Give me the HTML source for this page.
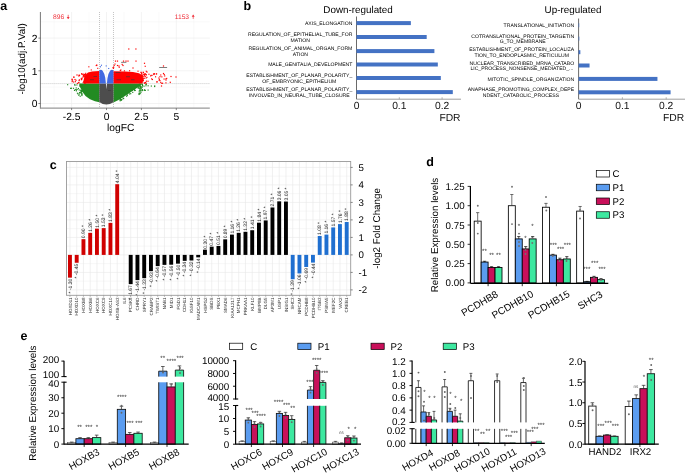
<!DOCTYPE html>
<html><head><meta charset="utf-8"><style>
html,body{margin:0;padding:0;background:#fff;}
svg{display:block;font-family:"Liberation Sans",sans-serif;text-rendering:geometricPrecision;filter:blur(0.35px);}
</style></head><body>
<svg width="685" height="473" viewBox="0 0 685 473">
<rect width="685" height="473" fill="#fff"/>
<text x="0.2" y="9.6" font-size="12.5" font-weight="bold">a</text>
<line x1="54.15" y1="12" x2="54.15" y2="108.1" stroke="#f4f4f4" stroke-width="0.5"/>
<line x1="89.05" y1="12" x2="89.05" y2="108.1" stroke="#f4f4f4" stroke-width="0.5"/>
<line x1="123.95" y1="12" x2="123.95" y2="108.1" stroke="#f4f4f4" stroke-width="0.5"/>
<line x1="158.85" y1="12" x2="158.85" y2="108.1" stroke="#f4f4f4" stroke-width="0.5"/>
<line x1="193.75" y1="12" x2="193.75" y2="108.1" stroke="#f4f4f4" stroke-width="0.5"/>
<line x1="40.4" y1="87.15" x2="209.8" y2="87.15" stroke="#f4f4f4" stroke-width="0.5"/>
<line x1="40.4" y1="54.45" x2="209.8" y2="54.45" stroke="#f4f4f4" stroke-width="0.5"/>
<line x1="40.4" y1="21.75" x2="209.8" y2="21.75" stroke="#f4f4f4" stroke-width="0.5"/>
<line x1="71.6" y1="12" x2="71.6" y2="108.1" stroke="#ebebeb" stroke-width="0.6"/>
<line x1="106.5" y1="12" x2="106.5" y2="108.1" stroke="#ebebeb" stroke-width="0.6"/>
<line x1="141.4" y1="12" x2="141.4" y2="108.1" stroke="#ebebeb" stroke-width="0.6"/>
<line x1="176.3" y1="12" x2="176.3" y2="108.1" stroke="#ebebeb" stroke-width="0.6"/>
<line x1="40.4" y1="103.5" x2="209.8" y2="103.5" stroke="#ebebeb" stroke-width="0.6"/>
<line x1="40.4" y1="70.8" x2="209.8" y2="70.8" stroke="#ebebeb" stroke-width="0.6"/>
<line x1="40.4" y1="38.1" x2="209.8" y2="38.1" stroke="#ebebeb" stroke-width="0.6"/>
<line x1="99.52" y1="12" x2="99.52" y2="108.1" stroke="#888" stroke-width="0.5" stroke-dasharray="1,1"/>
<line x1="113.48" y1="12" x2="113.48" y2="108.1" stroke="#888" stroke-width="0.5" stroke-dasharray="1,1"/>
<line x1="40.4" y1="83.6" x2="209.8" y2="83.6" stroke="#bbb" stroke-width="0.8" stroke-dasharray="1,1"/>
<polygon points="79.3,83.6 99.3,83.6 99.3,102.3 95,101.2 90,99.3 85.5,96 82.5,92 80.5,88 79.3,85.3" fill="#228b22"/>
<polygon points="113.4,83.6 142.5,83.6 140,86 135,89.3 129.5,93 123.5,97 118,100.3 113.4,102.4" fill="#228b22"/>
<rect x="79.45" y="85.69" width="1.15" height="1.15" fill="#228b22"/>
<rect x="74.5" y="84.51" width="1.15" height="1.15" fill="#228b22"/>
<rect x="76.55" y="88.91" width="1.15" height="1.15" fill="#228b22"/>
<rect x="81.34" y="91.04" width="1.15" height="1.15" fill="#228b22"/>
<rect x="81.38" y="89.93" width="1.15" height="1.15" fill="#228b22"/>
<rect x="81.3" y="84.79" width="1.15" height="1.15" fill="#228b22"/>
<rect x="81.08" y="86.77" width="1.15" height="1.15" fill="#228b22"/>
<rect x="75.85" y="89.38" width="1.15" height="1.15" fill="#228b22"/>
<rect x="67.06" y="84.12" width="1.15" height="1.15" fill="#228b22"/>
<rect x="70.03" y="87.77" width="1.15" height="1.15" fill="#228b22"/>
<rect x="80.97" y="85.19" width="1.15" height="1.15" fill="#228b22"/>
<rect x="79.62" y="95.67" width="1.15" height="1.15" fill="#228b22"/>
<rect x="80.74" y="92.15" width="1.15" height="1.15" fill="#228b22"/>
<rect x="74.73" y="89.01" width="1.15" height="1.15" fill="#228b22"/>
<rect x="76.35" y="84.37" width="1.15" height="1.15" fill="#228b22"/>
<rect x="81.33" y="86.51" width="1.15" height="1.15" fill="#228b22"/>
<rect x="73.92" y="89.84" width="1.15" height="1.15" fill="#228b22"/>
<rect x="79.56" y="92.21" width="1.15" height="1.15" fill="#228b22"/>
<rect x="77.82" y="87.92" width="1.15" height="1.15" fill="#228b22"/>
<rect x="80.24" y="92.04" width="1.15" height="1.15" fill="#228b22"/>
<rect x="72.92" y="87.74" width="1.15" height="1.15" fill="#228b22"/>
<rect x="78.3" y="94.78" width="1.15" height="1.15" fill="#228b22"/>
<rect x="80.92" y="90.76" width="1.15" height="1.15" fill="#228b22"/>
<rect x="81.38" y="93.45" width="1.15" height="1.15" fill="#228b22"/>
<rect x="75.8" y="90.27" width="1.15" height="1.15" fill="#228b22"/>
<rect x="77.51" y="93.39" width="1.15" height="1.15" fill="#228b22"/>
<rect x="81.33" y="93.95" width="1.15" height="1.15" fill="#228b22"/>
<rect x="70.89" y="87.69" width="1.15" height="1.15" fill="#228b22"/>
<rect x="78.72" y="93.45" width="1.15" height="1.15" fill="#228b22"/>
<rect x="81.41" y="90.35" width="1.15" height="1.15" fill="#228b22"/>
<rect x="80.82" y="85.18" width="1.15" height="1.15" fill="#228b22"/>
<rect x="81.33" y="94.95" width="1.15" height="1.15" fill="#228b22"/>
<rect x="81.05" y="87.14" width="1.15" height="1.15" fill="#228b22"/>
<rect x="81.26" y="90.16" width="1.15" height="1.15" fill="#228b22"/>
<rect x="79.92" y="89.65" width="1.15" height="1.15" fill="#228b22"/>
<rect x="80.77" y="86.9" width="1.15" height="1.15" fill="#228b22"/>
<rect x="80.33" y="90.7" width="1.15" height="1.15" fill="#228b22"/>
<rect x="75.64" y="87.37" width="1.15" height="1.15" fill="#228b22"/>
<rect x="81.42" y="89.71" width="1.15" height="1.15" fill="#228b22"/>
<rect x="78.93" y="91.92" width="1.15" height="1.15" fill="#228b22"/>
<rect x="76.87" y="92.69" width="1.15" height="1.15" fill="#228b22"/>
<rect x="74.01" y="84.23" width="1.15" height="1.15" fill="#228b22"/>
<rect x="78.64" y="89.41" width="1.15" height="1.15" fill="#228b22"/>
<rect x="81.17" y="92.94" width="1.15" height="1.15" fill="#228b22"/>
<rect x="81.32" y="84.44" width="1.15" height="1.15" fill="#228b22"/>
<rect x="139.74" y="85.37" width="1.15" height="1.15" fill="#228b22"/>
<rect x="141.58" y="84.06" width="1.15" height="1.15" fill="#228b22"/>
<rect x="138.43" y="85.24" width="1.15" height="1.15" fill="#228b22"/>
<rect x="138.78" y="87.79" width="1.15" height="1.15" fill="#228b22"/>
<rect x="138.45" y="93.92" width="1.15" height="1.15" fill="#228b22"/>
<rect x="147.57" y="85.21" width="1.15" height="1.15" fill="#228b22"/>
<rect x="140.27" y="87.59" width="1.15" height="1.15" fill="#228b22"/>
<rect x="142" y="84.9" width="1.15" height="1.15" fill="#228b22"/>
<rect x="143.99" y="89.23" width="1.15" height="1.15" fill="#228b22"/>
<rect x="138.69" y="84.65" width="1.15" height="1.15" fill="#228b22"/>
<rect x="141.62" y="86.6" width="1.15" height="1.15" fill="#228b22"/>
<rect x="154.12" y="85.36" width="1.15" height="1.15" fill="#228b22"/>
<rect x="145.4" y="85.18" width="1.15" height="1.15" fill="#228b22"/>
<rect x="145.76" y="83.75" width="1.15" height="1.15" fill="#228b22"/>
<rect x="140.39" y="87.83" width="1.15" height="1.15" fill="#228b22"/>
<rect x="139.3" y="92.69" width="1.15" height="1.15" fill="#228b22"/>
<rect x="141.41" y="86.1" width="1.15" height="1.15" fill="#228b22"/>
<rect x="139.95" y="89.64" width="1.15" height="1.15" fill="#228b22"/>
<rect x="141.85" y="83.77" width="1.15" height="1.15" fill="#228b22"/>
<rect x="138.46" y="86.78" width="1.15" height="1.15" fill="#228b22"/>
<rect x="140.36" y="91.74" width="1.15" height="1.15" fill="#228b22"/>
<rect x="139.87" y="86.15" width="1.15" height="1.15" fill="#228b22"/>
<rect x="139.6" y="85.88" width="1.15" height="1.15" fill="#228b22"/>
<rect x="138.68" y="91.35" width="1.15" height="1.15" fill="#228b22"/>
<rect x="139.41" y="92.89" width="1.15" height="1.15" fill="#228b22"/>
<rect x="150.75" y="85.47" width="1.15" height="1.15" fill="#228b22"/>
<rect x="138.96" y="85.24" width="1.15" height="1.15" fill="#228b22"/>
<rect x="139.12" y="93.34" width="1.15" height="1.15" fill="#228b22"/>
<rect x="141.76" y="90.01" width="1.15" height="1.15" fill="#228b22"/>
<rect x="138.99" y="83.6" width="1.15" height="1.15" fill="#228b22"/>
<rect x="154.03" y="85.96" width="1.15" height="1.15" fill="#228b22"/>
<rect x="140.26" y="86.94" width="1.15" height="1.15" fill="#228b22"/>
<rect x="140.12" y="90.46" width="1.15" height="1.15" fill="#228b22"/>
<rect x="140.36" y="88.45" width="1.15" height="1.15" fill="#228b22"/>
<rect x="141.81" y="88.92" width="1.15" height="1.15" fill="#228b22"/>
<rect x="144.78" y="89.81" width="1.15" height="1.15" fill="#228b22"/>
<rect x="145.29" y="83.65" width="1.15" height="1.15" fill="#228b22"/>
<rect x="143.45" y="85.62" width="1.15" height="1.15" fill="#228b22"/>
<rect x="138.43" y="93.02" width="1.15" height="1.15" fill="#228b22"/>
<rect x="139.35" y="89.11" width="1.15" height="1.15" fill="#228b22"/>
<rect x="141.35" y="89.65" width="1.15" height="1.15" fill="#228b22"/>
<rect x="138.81" y="90.15" width="1.15" height="1.15" fill="#228b22"/>
<rect x="140.22" y="86.75" width="1.15" height="1.15" fill="#228b22"/>
<rect x="147.53" y="89.49" width="1.15" height="1.15" fill="#228b22"/>
<rect x="143.7" y="89.82" width="1.15" height="1.15" fill="#228b22"/>
<rect x="137.69" y="87.48" width="1.15" height="1.15" fill="#228b22"/>
<rect x="128.06" y="92.03" width="1.15" height="1.15" fill="#228b22"/>
<rect x="130.12" y="93.11" width="1.15" height="1.15" fill="#228b22"/>
<rect x="119.6" y="100.2" width="1.15" height="1.15" fill="#228b22"/>
<rect x="120.24" y="99.21" width="1.15" height="1.15" fill="#228b22"/>
<rect x="132.18" y="91.8" width="1.15" height="1.15" fill="#228b22"/>
<rect x="119.65" y="99.5" width="1.15" height="1.15" fill="#228b22"/>
<rect x="119.71" y="98.27" width="1.15" height="1.15" fill="#228b22"/>
<rect x="119.62" y="98.37" width="1.15" height="1.15" fill="#228b22"/>
<rect x="134.66" y="89.77" width="1.15" height="1.15" fill="#228b22"/>
<rect x="123.06" y="97.91" width="1.15" height="1.15" fill="#228b22"/>
<rect x="119.72" y="98.04" width="1.15" height="1.15" fill="#228b22"/>
<rect x="128.97" y="93.36" width="1.15" height="1.15" fill="#228b22"/>
<rect x="119.51" y="97.95" width="1.15" height="1.15" fill="#228b22"/>
<rect x="119.86" y="97.96" width="1.15" height="1.15" fill="#228b22"/>
<rect x="126.68" y="93.45" width="1.15" height="1.15" fill="#228b22"/>
<rect x="133.85" y="89.21" width="1.15" height="1.15" fill="#228b22"/>
<rect x="133.59" y="88.5" width="1.15" height="1.15" fill="#228b22"/>
<rect x="126.07" y="95.68" width="1.15" height="1.15" fill="#228b22"/>
<rect x="134.08" y="89.99" width="1.15" height="1.15" fill="#228b22"/>
<rect x="131.77" y="89.79" width="1.15" height="1.15" fill="#228b22"/>
<rect x="120.93" y="99.61" width="1.15" height="1.15" fill="#228b22"/>
<rect x="121.22" y="98.89" width="1.15" height="1.15" fill="#228b22"/>
<rect x="122.57" y="98.03" width="1.15" height="1.15" fill="#228b22"/>
<rect x="137.66" y="87.23" width="1.15" height="1.15" fill="#228b22"/>
<rect x="119.83" y="97.95" width="1.15" height="1.15" fill="#228b22"/>
<rect x="122.25" y="96.51" width="1.15" height="1.15" fill="#228b22"/>
<rect x="131.13" y="89.94" width="1.15" height="1.15" fill="#228b22"/>
<rect x="120.9" y="99.01" width="1.15" height="1.15" fill="#228b22"/>
<rect x="126.69" y="94.87" width="1.15" height="1.15" fill="#228b22"/>
<path d="M99.3,83.6 L113.4,83.6 L113.4,102.2 Q110,104.6 106.4,104.6 Q102.5,104.6 99.3,102 Z" fill="#4d4d4d"/>
<polygon points="99.3,83.6 83.6,83.6 83.8,79 85.3,75 88,72.6 92,71.4 99.3,70.9" fill="#ff0000"/>
<polygon points="113.4,83.6 142.5,83.6 143.3,79 142.3,75.5 139,73.2 133,72 125,71.6 113.4,71.3" fill="#ff0000"/>
<rect x="83.99" y="73.88" width="1.15" height="1.15" fill="#ff0000"/>
<rect x="82.55" y="76.23" width="1.15" height="1.15" fill="#ff0000"/>
<rect x="71.65" y="81.02" width="1.15" height="1.15" fill="#ff0000"/>
<rect x="85.39" y="79.37" width="1.15" height="1.15" fill="#ff0000"/>
<rect x="73.12" y="76.56" width="1.15" height="1.15" fill="#ff0000"/>
<rect x="82.65" y="81.95" width="1.15" height="1.15" fill="#ff0000"/>
<rect x="74.8" y="81.11" width="1.15" height="1.15" fill="#ff0000"/>
<rect x="85.15" y="72.76" width="1.15" height="1.15" fill="#ff0000"/>
<rect x="80.76" y="79.04" width="1.15" height="1.15" fill="#ff0000"/>
<rect x="71.97" y="79.51" width="1.15" height="1.15" fill="#ff0000"/>
<rect x="78.57" y="80.03" width="1.15" height="1.15" fill="#ff0000"/>
<rect x="81.76" y="77.49" width="1.15" height="1.15" fill="#ff0000"/>
<rect x="85.38" y="80.23" width="1.15" height="1.15" fill="#ff0000"/>
<rect x="84.34" y="81.87" width="1.15" height="1.15" fill="#ff0000"/>
<rect x="78.6" y="74.54" width="1.15" height="1.15" fill="#ff0000"/>
<rect x="85.05" y="73.92" width="1.15" height="1.15" fill="#ff0000"/>
<rect x="78.78" y="79.24" width="1.15" height="1.15" fill="#ff0000"/>
<rect x="80.73" y="77.86" width="1.15" height="1.15" fill="#ff0000"/>
<rect x="82.7" y="73.59" width="1.15" height="1.15" fill="#ff0000"/>
<rect x="83.69" y="76.41" width="1.15" height="1.15" fill="#ff0000"/>
<rect x="71.52" y="78.6" width="1.15" height="1.15" fill="#ff0000"/>
<rect x="73.42" y="76.58" width="1.15" height="1.15" fill="#ff0000"/>
<rect x="84.32" y="73.86" width="1.15" height="1.15" fill="#ff0000"/>
<rect x="71.47" y="79.31" width="1.15" height="1.15" fill="#ff0000"/>
<rect x="81.14" y="78.95" width="1.15" height="1.15" fill="#ff0000"/>
<rect x="82.28" y="73.99" width="1.15" height="1.15" fill="#ff0000"/>
<rect x="78.18" y="81.93" width="1.15" height="1.15" fill="#ff0000"/>
<rect x="83.3" y="75.93" width="1.15" height="1.15" fill="#ff0000"/>
<rect x="75.45" y="79.72" width="1.15" height="1.15" fill="#ff0000"/>
<rect x="81.04" y="73.37" width="1.15" height="1.15" fill="#ff0000"/>
<rect x="84.43" y="79.97" width="1.15" height="1.15" fill="#ff0000"/>
<rect x="83.76" y="82.25" width="1.15" height="1.15" fill="#ff0000"/>
<rect x="81.18" y="73.15" width="1.15" height="1.15" fill="#ff0000"/>
<rect x="84.42" y="75.89" width="1.15" height="1.15" fill="#ff0000"/>
<rect x="78.22" y="82.22" width="1.15" height="1.15" fill="#ff0000"/>
<rect x="84.95" y="75.61" width="1.15" height="1.15" fill="#ff0000"/>
<rect x="84.5" y="82.52" width="1.15" height="1.15" fill="#ff0000"/>
<rect x="85.33" y="75.61" width="1.15" height="1.15" fill="#ff0000"/>
<rect x="73.06" y="81.44" width="1.15" height="1.15" fill="#ff0000"/>
<rect x="76.85" y="82.8" width="1.15" height="1.15" fill="#ff0000"/>
<rect x="84.7" y="82.06" width="1.15" height="1.15" fill="#ff0000"/>
<rect x="78.24" y="75.43" width="1.15" height="1.15" fill="#ff0000"/>
<rect x="82.87" y="74.87" width="1.15" height="1.15" fill="#ff0000"/>
<rect x="83.91" y="75.11" width="1.15" height="1.15" fill="#ff0000"/>
<rect x="83.08" y="80.7" width="1.15" height="1.15" fill="#ff0000"/>
<rect x="159.4" y="76.07" width="1.15" height="1.15" fill="#ff0000"/>
<rect x="140.54" y="76.56" width="1.15" height="1.15" fill="#ff0000"/>
<rect x="144.99" y="81.87" width="1.15" height="1.15" fill="#ff0000"/>
<rect x="141.82" y="75.26" width="1.15" height="1.15" fill="#ff0000"/>
<rect x="145.87" y="80.59" width="1.15" height="1.15" fill="#ff0000"/>
<rect x="140.49" y="71.67" width="1.15" height="1.15" fill="#ff0000"/>
<rect x="163.67" y="73.98" width="1.15" height="1.15" fill="#ff0000"/>
<rect x="156.41" y="81.62" width="1.15" height="1.15" fill="#ff0000"/>
<rect x="144.28" y="74.17" width="1.15" height="1.15" fill="#ff0000"/>
<rect x="165.4" y="78.27" width="1.15" height="1.15" fill="#ff0000"/>
<rect x="142.85" y="79.45" width="1.15" height="1.15" fill="#ff0000"/>
<rect x="143.83" y="74.21" width="1.15" height="1.15" fill="#ff0000"/>
<rect x="140.43" y="79.92" width="1.15" height="1.15" fill="#ff0000"/>
<rect x="163.5" y="78.47" width="1.15" height="1.15" fill="#ff0000"/>
<rect x="142.4" y="76.58" width="1.15" height="1.15" fill="#ff0000"/>
<rect x="165.36" y="82.28" width="1.15" height="1.15" fill="#ff0000"/>
<rect x="145.3" y="73.91" width="1.15" height="1.15" fill="#ff0000"/>
<rect x="146.33" y="76.8" width="1.15" height="1.15" fill="#ff0000"/>
<rect x="158.6" y="79.71" width="1.15" height="1.15" fill="#ff0000"/>
<rect x="159.43" y="80.12" width="1.15" height="1.15" fill="#ff0000"/>
<rect x="151.43" y="74.83" width="1.15" height="1.15" fill="#ff0000"/>
<rect x="143.89" y="75.23" width="1.15" height="1.15" fill="#ff0000"/>
<rect x="141.88" y="79.88" width="1.15" height="1.15" fill="#ff0000"/>
<rect x="142.61" y="71.7" width="1.15" height="1.15" fill="#ff0000"/>
<rect x="140.49" y="77.5" width="1.15" height="1.15" fill="#ff0000"/>
<rect x="144.01" y="82.59" width="1.15" height="1.15" fill="#ff0000"/>
<rect x="162.03" y="82.68" width="1.15" height="1.15" fill="#ff0000"/>
<rect x="142.9" y="71.93" width="1.15" height="1.15" fill="#ff0000"/>
<rect x="140.83" y="76.86" width="1.15" height="1.15" fill="#ff0000"/>
<rect x="154.99" y="76.24" width="1.15" height="1.15" fill="#ff0000"/>
<rect x="142.4" y="75.89" width="1.15" height="1.15" fill="#ff0000"/>
<rect x="151.86" y="78.95" width="1.15" height="1.15" fill="#ff0000"/>
<rect x="156.43" y="81" width="1.15" height="1.15" fill="#ff0000"/>
<rect x="160.19" y="74.42" width="1.15" height="1.15" fill="#ff0000"/>
<rect x="150.14" y="75.36" width="1.15" height="1.15" fill="#ff0000"/>
<rect x="156.05" y="73.3" width="1.15" height="1.15" fill="#ff0000"/>
<rect x="142.61" y="73.84" width="1.15" height="1.15" fill="#ff0000"/>
<rect x="141.35" y="81.45" width="1.15" height="1.15" fill="#ff0000"/>
<rect x="150.5" y="74.81" width="1.15" height="1.15" fill="#ff0000"/>
<rect x="145.52" y="82.74" width="1.15" height="1.15" fill="#ff0000"/>
<rect x="148.38" y="73.68" width="1.15" height="1.15" fill="#ff0000"/>
<rect x="158.84" y="78.7" width="1.15" height="1.15" fill="#ff0000"/>
<rect x="147.49" y="80.67" width="1.15" height="1.15" fill="#ff0000"/>
<rect x="160.18" y="81.81" width="1.15" height="1.15" fill="#ff0000"/>
<rect x="140.51" y="74.42" width="1.15" height="1.15" fill="#ff0000"/>
<rect x="141.01" y="73.18" width="1.15" height="1.15" fill="#ff0000"/>
<rect x="166.13" y="77.87" width="1.15" height="1.15" fill="#ff0000"/>
<rect x="164.13" y="75.35" width="1.15" height="1.15" fill="#ff0000"/>
<rect x="161.27" y="76.27" width="1.15" height="1.15" fill="#ff0000"/>
<rect x="142.81" y="80.18" width="1.15" height="1.15" fill="#ff0000"/>
<rect x="151.07" y="78.3" width="1.15" height="1.15" fill="#ff0000"/>
<rect x="142.16" y="75.31" width="1.15" height="1.15" fill="#ff0000"/>
<rect x="141.22" y="73.35" width="1.15" height="1.15" fill="#ff0000"/>
<rect x="142.73" y="78.06" width="1.15" height="1.15" fill="#ff0000"/>
<rect x="152.92" y="73.35" width="1.15" height="1.15" fill="#ff0000"/>
<rect x="140.43" y="74.82" width="1.15" height="1.15" fill="#ff0000"/>
<rect x="153.85" y="73.13" width="1.15" height="1.15" fill="#ff0000"/>
<rect x="143.75" y="73.35" width="1.15" height="1.15" fill="#ff0000"/>
<rect x="158.3" y="77.45" width="1.15" height="1.15" fill="#ff0000"/>
<rect x="140.61" y="72.13" width="1.15" height="1.15" fill="#ff0000"/>
<rect x="145.5" y="77.47" width="1.15" height="1.15" fill="#ff0000"/>
<rect x="141.46" y="79.2" width="1.15" height="1.15" fill="#ff0000"/>
<rect x="145.84" y="74.3" width="1.15" height="1.15" fill="#ff0000"/>
<rect x="143.66" y="82.27" width="1.15" height="1.15" fill="#ff0000"/>
<rect x="143.75" y="77.67" width="1.15" height="1.15" fill="#ff0000"/>
<rect x="144.66" y="75.88" width="1.15" height="1.15" fill="#ff0000"/>
<rect x="161.19" y="82.78" width="1.15" height="1.15" fill="#ff0000"/>
<rect x="144.8" y="73.27" width="1.15" height="1.15" fill="#ff0000"/>
<rect x="155.67" y="73.35" width="1.15" height="1.15" fill="#ff0000"/>
<rect x="140.43" y="81.65" width="1.15" height="1.15" fill="#ff0000"/>
<rect x="120.31" y="69.4" width="1.15" height="1.15" fill="#ff0000"/>
<rect x="119.74" y="69.93" width="1.15" height="1.15" fill="#ff0000"/>
<rect x="121.6" y="63.81" width="1.15" height="1.15" fill="#ff0000"/>
<rect x="112.44" y="67.11" width="1.15" height="1.15" fill="#ff0000"/>
<rect x="129.03" y="70.16" width="1.15" height="1.15" fill="#ff0000"/>
<rect x="112.9" y="67.71" width="1.15" height="1.15" fill="#ff0000"/>
<rect x="118.63" y="66.71" width="1.15" height="1.15" fill="#ff0000"/>
<rect x="113.58" y="64.83" width="1.15" height="1.15" fill="#ff0000"/>
<rect x="123.87" y="70.29" width="1.15" height="1.15" fill="#ff0000"/>
<rect x="113.11" y="66.59" width="1.15" height="1.15" fill="#ff0000"/>
<rect x="137.45" y="70.64" width="1.15" height="1.15" fill="#ff0000"/>
<rect x="114.42" y="63.5" width="1.15" height="1.15" fill="#ff0000"/>
<rect x="145.72" y="70.72" width="1.15" height="1.15" fill="#ff0000"/>
<rect x="144.65" y="65.72" width="1.15" height="1.15" fill="#ff0000"/>
<rect x="97.2" y="67.79" width="1.1" height="1.1" fill="#ff0000"/>
<rect x="96.17" y="64.57" width="1.1" height="1.1" fill="#ff0000"/>
<rect x="95.67" y="65" width="1.1" height="1.1" fill="#ff0000"/>
<rect x="90.71" y="69.37" width="1.1" height="1.1" fill="#ff0000"/>
<rect x="96.23" y="64.73" width="1.1" height="1.1" fill="#ff0000"/>
<rect x="88.29" y="66.25" width="1.1" height="1.1" fill="#ff0000"/>
<rect x="128.2" y="48.4" width="1.2" height="1.2" fill="#ff0000"/>
<rect x="135.3" y="48.4" width="1.2" height="1.2" fill="#ff0000"/>
<rect x="114.9" y="60.5" width="1.2" height="1.2" fill="#ff0000"/>
<rect x="116.9" y="60.5" width="1.2" height="1.2" fill="#ff0000"/>
<rect x="122.9" y="60.5" width="1.2" height="1.2" fill="#ff0000"/>
<rect x="125.4" y="60.5" width="1.2" height="1.2" fill="#ff0000"/>
<rect x="127.4" y="60.5" width="1.2" height="1.2" fill="#ff0000"/>
<rect x="135.4" y="60.5" width="1.2" height="1.2" fill="#ff0000"/>
<rect x="143.9" y="62.7" width="1.2" height="1.2" fill="#ff0000"/>
<rect x="162.9" y="65.4" width="1.2" height="1.2" fill="#ff0000"/>
<rect x="170.4" y="75.9" width="1.2" height="1.2" fill="#ff0000"/>
<rect x="169.7" y="81.7" width="1.2" height="1.2" fill="#ff0000"/>
<rect x="160.9" y="85.4" width="1.2" height="1.2" fill="#ff0000"/>
<rect x="175.4" y="76.4" width="1.2" height="1.2" fill="#ff0000"/>
<rect x="162.9" y="72.9" width="1.2" height="1.2" fill="#ff0000"/>
<rect x="165.4" y="79.4" width="1.2" height="1.2" fill="#ff0000"/>
<rect x="116.9" y="64.9" width="1.2" height="1.2" fill="#ff0000"/>
<rect x="118.4" y="65.4" width="1.2" height="1.2" fill="#ff0000"/>
<rect x="122.4" y="64.9" width="1.2" height="1.2" fill="#ff0000"/>
<rect x="132.4" y="67.4" width="1.2" height="1.2" fill="#ff0000"/>
<rect x="146.4" y="71.4" width="1.2" height="1.2" fill="#ff0000"/>
<rect x="153.4" y="73.9" width="1.2" height="1.2" fill="#ff0000"/>
<rect x="76.4" y="74.4" width="1.2" height="1.2" fill="#ff0000"/>
<rect x="78.9" y="74.9" width="1.2" height="1.2" fill="#ff0000"/>
<rect x="74.4" y="78.9" width="1.2" height="1.2" fill="#ff0000"/>
<rect x="121.1" y="61.9" width="5.3" height="0.65" fill="#3a3a3a"/>
<rect x="159.2" y="67.2" width="7.9" height="0.65" fill="#3a3a3a"/>
<rect x="115.5" y="72.2" width="5" height="0.65" fill="#3a3a3a"/>
<rect x="116.5" y="79.5" width="4.5" height="0.65" fill="#3a3a3a"/>
<rect x="126" y="76.5" width="4" height="0.65" fill="#3a3a3a"/>
<rect x="131" y="79.5" width="3.5" height="0.65" fill="#3a3a3a"/>
<rect x="90" y="79.5" width="4" height="0.65" fill="#3a3a3a"/>
<rect x="93.5" y="76" width="3.5" height="0.65" fill="#3a3a3a"/>
<rect x="101" y="75" width="3" height="0.65" fill="#3a3a3a"/>
<rect x="108" y="90" width="3" height="0.65" fill="#3a3a3a"/>
<path d="M99.3,83.6 L99.3,70.3 Q101.2,69.2 102.6,70.8 Q104.6,73.5 105.3,78 L105.9,83.6 Z" fill="#4169e1"/>
<path d="M113.4,83.6 L113.4,70.3 Q111.5,69.2 110.1,70.8 Q108.2,73.5 107.5,78 L106.9,83.6 Z" fill="#4169e1"/>
<path d="M105.9,83.6 L106.4,89.5 L106.9,83.6 Z" fill="#ffffff"/>
<rect x="105.66" y="65.37" width="1.1" height="1.1" fill="#4169e1"/>
<rect x="100.93" y="64.69" width="1.1" height="1.1" fill="#4169e1"/>
<rect x="108.15" y="67.94" width="1.1" height="1.1" fill="#4169e1"/>
<rect x="99.94" y="66.26" width="1.1" height="1.1" fill="#4169e1"/>
<line x1="40.4" y1="12" x2="40.4" y2="108.7" stroke="#555" stroke-width="0.8"/>
<line x1="40.4" y1="108.1" x2="209.8" y2="108.1" stroke="#999" stroke-width="1.2"/>
<line x1="38.4" y1="103.5" x2="40.4" y2="103.5" stroke="#555" stroke-width="0.7"/>
<text x="37.5" y="107.4" font-size="10.3" text-anchor="end">0</text>
<line x1="38.4" y1="70.8" x2="40.4" y2="70.8" stroke="#555" stroke-width="0.7"/>
<text x="37.5" y="74.7" font-size="10.3" text-anchor="end">1</text>
<line x1="38.4" y1="38.1" x2="40.4" y2="38.1" stroke="#555" stroke-width="0.7"/>
<text x="37.5" y="42" font-size="10.3" text-anchor="end">2</text>
<line x1="71.6" y1="108.1" x2="71.6" y2="110.1" stroke="#555" stroke-width="0.7"/>
<text x="71.6" y="120.1" font-size="10.3" text-anchor="middle">-2.5</text>
<line x1="106.5" y1="108.1" x2="106.5" y2="110.1" stroke="#555" stroke-width="0.7"/>
<text x="106.5" y="120.1" font-size="10.3" text-anchor="middle">0</text>
<line x1="141.4" y1="108.1" x2="141.4" y2="110.1" stroke="#555" stroke-width="0.7"/>
<text x="141.4" y="120.1" font-size="10.3" text-anchor="middle">2.5</text>
<line x1="176.3" y1="108.1" x2="176.3" y2="110.1" stroke="#555" stroke-width="0.7"/>
<text x="176.3" y="120.1" font-size="10.3" text-anchor="middle">5</text>
<text x="120.7" y="131.4" font-size="10.3" text-anchor="middle">logFC</text>
<text x="25.3" y="58.9" font-size="9.87" text-anchor="middle" transform="rotate(-90 25.3 58.9)">-log10(adj.P.Val)</text>
<text x="53" y="19.2" font-size="6.7" fill="#f0303a">896</text>
<text x="174.7" y="19.2" font-size="6.7" fill="#f0303a">1153</text>
<line x1="68.2" y1="14.8" x2="68.2" y2="18.9" stroke="#f0303a" stroke-width="0.7"/>
<path d="M66.7,17 L68.2,18.9 L69.7,17 Z" fill="#f0303a"/>
<line x1="193.2" y1="18.9" x2="193.2" y2="14.8" stroke="#f0303a" stroke-width="0.7"/>
<path d="M191.7,16.7 L193.2,14.8 L194.7,16.7 Z" fill="#f0303a"/>
<text x="243.5" y="9.6" font-size="12.5" font-weight="bold">b</text>
<text x="323.3" y="13.4" font-size="9.85">Down-regulated</text>
<line x1="356.5" y1="16.5" x2="356.5" y2="99.2" stroke="#444" stroke-width="0.8"/>
<line x1="356.5" y1="99.2" x2="461" y2="99.2" stroke="#888" stroke-width="0.8"/>
<rect x="356.5" y="21.1" width="54.36" height="4" fill="#4472c4"/>
<text x="352.4" y="24.9" font-size="5.1" text-anchor="end">AXIS_ELONGATION</text>
<rect x="356.5" y="35" width="70.19" height="4" fill="#4472c4"/>
<text x="300.16" y="36.1" font-size="5.1" text-anchor="middle">REGULATION_OF_EPITHELIAL_TUBE_FOR</text>
<text x="300.16" y="41.7" font-size="5.1" text-anchor="middle">MATION</text>
<rect x="356.5" y="49.1" width="77.9" height="4" fill="#4472c4"/>
<text x="300.45" y="50.2" font-size="5.1" text-anchor="middle">REGULATION_OF_ANIMAL_ORGAN_FORM</text>
<text x="300.45" y="55.8" font-size="5.1" text-anchor="middle">ATION</text>
<rect x="356.5" y="62.5" width="81.32" height="4" fill="#4472c4"/>
<text x="352.4" y="66.3" font-size="5.1" text-anchor="end">MALE_GENITALIA_DEVELOPMENT</text>
<rect x="356.5" y="76" width="84.32" height="4" fill="#4472c4"/>
<text x="299.31" y="77.1" font-size="5.1" text-anchor="middle">ESTABLISHMENT_OF_PLANAR_POLARITY_</text>
<text x="299.31" y="82.7" font-size="5.1" text-anchor="middle">OF_EMBRYONIC_EPITHELIUM</text>
<rect x="356.5" y="90.1" width="96.3" height="4" fill="#4472c4"/>
<text x="299.31" y="91.2" font-size="5.1" text-anchor="middle">ESTABLISHMENT_OF_PLANAR_POLARITY_</text>
<text x="299.31" y="96.8" font-size="5.1" text-anchor="middle">INVOLVED_IN_NEURAL_TUBE_CLOSURE</text>
<text x="356.5" y="109.1" font-size="10.3" text-anchor="middle" fill="#111">0</text>
<line x1="399.3" y1="97.2" x2="399.3" y2="99.2" stroke="#888" stroke-width="0.6"/>
<text x="399.3" y="109.1" font-size="10.3" text-anchor="middle" fill="#111">0.1</text>
<line x1="442.1" y1="97.2" x2="442.1" y2="99.2" stroke="#888" stroke-width="0.6"/>
<text x="442.1" y="109.1" font-size="10.3" text-anchor="middle" fill="#111">0.2</text>
<text x="439.4" y="121" font-size="10.3" fill="#111">FDR</text>
<text x="544.6" y="13.4" font-size="9.85">Up-regulated</text>
<line x1="578.6" y1="18.5" x2="578.6" y2="99.2" stroke="#444" stroke-width="0.8"/>
<line x1="578.6" y1="99.2" x2="685" y2="99.2" stroke="#888" stroke-width="0.8"/>
<rect x="578.6" y="23.2" width="0.6" height="4" fill="#4472c4"/>
<text x="574.2" y="27" font-size="5.1" text-anchor="end">TRANSLATIONAL_INITIATION</text>
<rect x="578.6" y="36.6" width="0.7" height="4" fill="#4472c4"/>
<text x="522.72" y="37.7" font-size="5.1" text-anchor="middle">COTRANSLATIONAL_PROTEIN_TARGETIN</text>
<text x="522.72" y="43.3" font-size="5.1" text-anchor="middle">G_TO_MEMBRANE</text>
<rect x="578.6" y="50.2" width="1.75" height="4" fill="#4472c4"/>
<text x="521.68" y="51.3" font-size="5.1" text-anchor="middle">ESTABLISHMENT_OF_PROTEIN_LOCALIZA</text>
<text x="521.68" y="56.9" font-size="5.1" text-anchor="middle">TION_TO_ENDOPLASMIC_RETICULUM</text>
<rect x="578.6" y="63.5" width="10.95" height="4" fill="#4472c4"/>
<text x="521.87" y="64.6" font-size="5.1" text-anchor="middle">NUCLEAR_TRANSCRIBED_MRNA_CATABO</text>
<text x="521.87" y="70.2" font-size="5.1" text-anchor="middle">LIC_PROCESS_NONSENSE_MEDIATED_...</text>
<rect x="578.6" y="76.9" width="78.84" height="4" fill="#4472c4"/>
<text x="574.2" y="80.7" font-size="5.1" text-anchor="end">MITOTIC_SPINDLE_ORGANIZATION</text>
<rect x="578.6" y="90.3" width="91.98" height="4" fill="#4472c4"/>
<text x="520.92" y="91.4" font-size="5.1" text-anchor="middle">ANAPHASE_PROMOTING_COMPLEX_DEPE</text>
<text x="520.92" y="97" font-size="5.1" text-anchor="middle">NDENT_CATABOLIC_PROCESS</text>
<text x="578.6" y="109.1" font-size="10.3" text-anchor="middle" fill="#111">0</text>
<line x1="622.4" y1="97.2" x2="622.4" y2="99.2" stroke="#888" stroke-width="0.6"/>
<text x="622.4" y="109.1" font-size="10.3" text-anchor="middle" fill="#111">0.1</text>
<line x1="666.2" y1="97.2" x2="666.2" y2="99.2" stroke="#888" stroke-width="0.6"/>
<text x="666.2" y="109.1" font-size="10.3" text-anchor="middle" fill="#111">0.2</text>
<text x="663" y="121" font-size="10.3" fill="#111">FDR</text>
<text x="49.8" y="169.4" font-size="12.5" font-weight="bold">c</text>
<line x1="66.5" y1="289.9" x2="350.7" y2="289.9" stroke="#e8e8e8" stroke-width="0.6"/>
<line x1="66.5" y1="281.15" x2="350.7" y2="281.15" stroke="#f2f2f2" stroke-width="0.6"/>
<line x1="66.5" y1="272.4" x2="350.7" y2="272.4" stroke="#e8e8e8" stroke-width="0.6"/>
<line x1="66.5" y1="263.65" x2="350.7" y2="263.65" stroke="#f2f2f2" stroke-width="0.6"/>
<line x1="66.5" y1="254.9" x2="350.7" y2="254.9" stroke="#e8e8e8" stroke-width="0.6"/>
<line x1="66.5" y1="246.15" x2="350.7" y2="246.15" stroke="#f2f2f2" stroke-width="0.6"/>
<line x1="66.5" y1="237.4" x2="350.7" y2="237.4" stroke="#e8e8e8" stroke-width="0.6"/>
<line x1="66.5" y1="228.65" x2="350.7" y2="228.65" stroke="#f2f2f2" stroke-width="0.6"/>
<line x1="66.5" y1="219.9" x2="350.7" y2="219.9" stroke="#e8e8e8" stroke-width="0.6"/>
<line x1="66.5" y1="211.15" x2="350.7" y2="211.15" stroke="#f2f2f2" stroke-width="0.6"/>
<line x1="66.5" y1="202.4" x2="350.7" y2="202.4" stroke="#e8e8e8" stroke-width="0.6"/>
<line x1="66.5" y1="193.65" x2="350.7" y2="193.65" stroke="#f2f2f2" stroke-width="0.6"/>
<line x1="66.5" y1="184.9" x2="350.7" y2="184.9" stroke="#e8e8e8" stroke-width="0.6"/>
<line x1="66.5" y1="176.15" x2="350.7" y2="176.15" stroke="#f2f2f2" stroke-width="0.6"/>
<line x1="66.5" y1="167.4" x2="350.7" y2="167.4" stroke="#e8e8e8" stroke-width="0.6"/>
<line x1="69.95" y1="161.5" x2="69.95" y2="295.3" stroke="#e8e8e8" stroke-width="0.6"/>
<line x1="76.7" y1="161.5" x2="76.7" y2="295.3" stroke="#e8e8e8" stroke-width="0.6"/>
<line x1="83.45" y1="161.5" x2="83.45" y2="295.3" stroke="#e8e8e8" stroke-width="0.6"/>
<line x1="90.2" y1="161.5" x2="90.2" y2="295.3" stroke="#e8e8e8" stroke-width="0.6"/>
<line x1="96.95" y1="161.5" x2="96.95" y2="295.3" stroke="#e8e8e8" stroke-width="0.6"/>
<line x1="103.7" y1="161.5" x2="103.7" y2="295.3" stroke="#e8e8e8" stroke-width="0.6"/>
<line x1="110.45" y1="161.5" x2="110.45" y2="295.3" stroke="#e8e8e8" stroke-width="0.6"/>
<line x1="117.2" y1="161.5" x2="117.2" y2="295.3" stroke="#e8e8e8" stroke-width="0.6"/>
<line x1="123.95" y1="161.5" x2="123.95" y2="295.3" stroke="#e8e8e8" stroke-width="0.6"/>
<line x1="130.7" y1="161.5" x2="130.7" y2="295.3" stroke="#e8e8e8" stroke-width="0.6"/>
<line x1="137.45" y1="161.5" x2="137.45" y2="295.3" stroke="#e8e8e8" stroke-width="0.6"/>
<line x1="144.2" y1="161.5" x2="144.2" y2="295.3" stroke="#e8e8e8" stroke-width="0.6"/>
<line x1="150.95" y1="161.5" x2="150.95" y2="295.3" stroke="#e8e8e8" stroke-width="0.6"/>
<line x1="157.7" y1="161.5" x2="157.7" y2="295.3" stroke="#e8e8e8" stroke-width="0.6"/>
<line x1="164.45" y1="161.5" x2="164.45" y2="295.3" stroke="#e8e8e8" stroke-width="0.6"/>
<line x1="171.2" y1="161.5" x2="171.2" y2="295.3" stroke="#e8e8e8" stroke-width="0.6"/>
<line x1="177.95" y1="161.5" x2="177.95" y2="295.3" stroke="#e8e8e8" stroke-width="0.6"/>
<line x1="184.7" y1="161.5" x2="184.7" y2="295.3" stroke="#e8e8e8" stroke-width="0.6"/>
<line x1="191.45" y1="161.5" x2="191.45" y2="295.3" stroke="#e8e8e8" stroke-width="0.6"/>
<line x1="198.2" y1="161.5" x2="198.2" y2="295.3" stroke="#e8e8e8" stroke-width="0.6"/>
<line x1="204.95" y1="161.5" x2="204.95" y2="295.3" stroke="#e8e8e8" stroke-width="0.6"/>
<line x1="211.7" y1="161.5" x2="211.7" y2="295.3" stroke="#e8e8e8" stroke-width="0.6"/>
<line x1="218.45" y1="161.5" x2="218.45" y2="295.3" stroke="#e8e8e8" stroke-width="0.6"/>
<line x1="225.2" y1="161.5" x2="225.2" y2="295.3" stroke="#e8e8e8" stroke-width="0.6"/>
<line x1="231.95" y1="161.5" x2="231.95" y2="295.3" stroke="#e8e8e8" stroke-width="0.6"/>
<line x1="238.7" y1="161.5" x2="238.7" y2="295.3" stroke="#e8e8e8" stroke-width="0.6"/>
<line x1="245.45" y1="161.5" x2="245.45" y2="295.3" stroke="#e8e8e8" stroke-width="0.6"/>
<line x1="252.2" y1="161.5" x2="252.2" y2="295.3" stroke="#e8e8e8" stroke-width="0.6"/>
<line x1="258.95" y1="161.5" x2="258.95" y2="295.3" stroke="#e8e8e8" stroke-width="0.6"/>
<line x1="265.7" y1="161.5" x2="265.7" y2="295.3" stroke="#e8e8e8" stroke-width="0.6"/>
<line x1="272.45" y1="161.5" x2="272.45" y2="295.3" stroke="#e8e8e8" stroke-width="0.6"/>
<line x1="279.2" y1="161.5" x2="279.2" y2="295.3" stroke="#e8e8e8" stroke-width="0.6"/>
<line x1="285.95" y1="161.5" x2="285.95" y2="295.3" stroke="#e8e8e8" stroke-width="0.6"/>
<line x1="292.7" y1="161.5" x2="292.7" y2="295.3" stroke="#e8e8e8" stroke-width="0.6"/>
<line x1="299.45" y1="161.5" x2="299.45" y2="295.3" stroke="#e8e8e8" stroke-width="0.6"/>
<line x1="306.2" y1="161.5" x2="306.2" y2="295.3" stroke="#e8e8e8" stroke-width="0.6"/>
<line x1="312.95" y1="161.5" x2="312.95" y2="295.3" stroke="#e8e8e8" stroke-width="0.6"/>
<line x1="319.7" y1="161.5" x2="319.7" y2="295.3" stroke="#e8e8e8" stroke-width="0.6"/>
<line x1="326.45" y1="161.5" x2="326.45" y2="295.3" stroke="#e8e8e8" stroke-width="0.6"/>
<line x1="333.2" y1="161.5" x2="333.2" y2="295.3" stroke="#e8e8e8" stroke-width="0.6"/>
<line x1="339.95" y1="161.5" x2="339.95" y2="295.3" stroke="#e8e8e8" stroke-width="0.6"/>
<line x1="346.7" y1="161.5" x2="346.7" y2="295.3" stroke="#e8e8e8" stroke-width="0.6"/>
<rect x="68" y="254.9" width="3.9" height="22.75" fill="#d00000"/>
<text x="71.65" y="278.65" font-size="5.0" text-anchor="end" fill="#222" transform="rotate(-90 71.65 278.65)">* -1.30</text>
<line x1="69.95" y1="295.3" x2="69.95" y2="296.7" stroke="#555" stroke-width="0.5"/>
<text x="71.55" y="297.5" font-size="4.5" text-anchor="end" fill="#333" transform="rotate(-90 71.55 297.5)">HOXD11</text>
<rect x="74.75" y="254.9" width="3.9" height="7.87" fill="#d00000"/>
<text x="78.4" y="263.77" font-size="5.0" text-anchor="end" fill="#222" transform="rotate(-90 78.4 263.77)">* -0.45</text>
<line x1="76.7" y1="295.3" x2="76.7" y2="296.7" stroke="#555" stroke-width="0.5"/>
<text x="78.3" y="297.5" font-size="4.5" text-anchor="end" fill="#333" transform="rotate(-90 78.3 297.5)">HOXD10</text>
<rect x="81.5" y="239.15" width="3.9" height="15.75" fill="#d00000"/>
<text x="85.15" y="238.15" font-size="5.0" fill="#222" transform="rotate(-90 85.15 238.15)">0.90 *</text>
<line x1="83.45" y1="295.3" x2="83.45" y2="296.7" stroke="#555" stroke-width="0.5"/>
<text x="85.05" y="297.5" font-size="4.5" text-anchor="end" fill="#333" transform="rotate(-90 85.05 297.5)">HOXB8</text>
<rect x="88.25" y="232.85" width="3.9" height="22.05" fill="#d00000"/>
<text x="91.9" y="231.85" font-size="5.0" fill="#222" transform="rotate(-90 91.9 231.85)">1.26 *</text>
<line x1="90.2" y1="295.3" x2="90.2" y2="296.7" stroke="#555" stroke-width="0.5"/>
<text x="91.8" y="297.5" font-size="4.5" text-anchor="end" fill="#333" transform="rotate(-90 91.8 297.5)">HOXB6</text>
<rect x="95" y="228.65" width="3.9" height="26.25" fill="#d00000"/>
<text x="98.65" y="227.65" font-size="5.0" fill="#222" transform="rotate(-90 98.65 227.65)">1.50 *</text>
<line x1="96.95" y1="295.3" x2="96.95" y2="296.7" stroke="#555" stroke-width="0.5"/>
<text x="98.55" y="297.5" font-size="4.5" text-anchor="end" fill="#333" transform="rotate(-90 98.55 297.5)">HOXC6</text>
<rect x="101.75" y="228.12" width="3.9" height="26.78" fill="#d00000"/>
<text x="105.4" y="227.12" font-size="5.0" fill="#222" transform="rotate(-90 105.4 227.12)">1.53 *</text>
<line x1="103.7" y1="295.3" x2="103.7" y2="296.7" stroke="#555" stroke-width="0.5"/>
<text x="105.3" y="297.5" font-size="4.5" text-anchor="end" fill="#333" transform="rotate(-90 105.3 297.5)">HOXC9</text>
<rect x="108.5" y="222.88" width="3.9" height="32.03" fill="#d00000"/>
<text x="112.15" y="221.88" font-size="5.0" fill="#222" transform="rotate(-90 112.15 221.88)">1.83 *</text>
<line x1="110.45" y1="295.3" x2="110.45" y2="296.7" stroke="#555" stroke-width="0.5"/>
<text x="112.05" y="297.5" font-size="4.5" text-anchor="end" fill="#333" transform="rotate(-90 112.05 297.5)">HOXC10</text>
<rect x="115.25" y="184.2" width="3.9" height="70.7" fill="#d00000"/>
<text x="118.9" y="183.2" font-size="5.0" fill="#222" transform="rotate(-90 118.9 183.2)">4.04 *</text>
<line x1="117.2" y1="295.3" x2="117.2" y2="296.7" stroke="#555" stroke-width="0.5"/>
<text x="118.8" y="297.5" font-size="4.5" text-anchor="end" fill="#333" transform="rotate(-90 118.8 297.5)">HOXB-AS3</text>
<line x1="123.95" y1="295.3" x2="123.95" y2="296.7" stroke="#555" stroke-width="0.5"/>
<text x="125.55" y="297.5" font-size="4.5" text-anchor="end" fill="#333" transform="rotate(-90 125.55 297.5)">IL6</text>
<rect x="128.75" y="254.9" width="3.9" height="29.22" fill="#000000"/>
<text x="132.4" y="285.12" font-size="5.0" text-anchor="end" fill="#222" transform="rotate(-90 132.4 285.12)">* -1.67</text>
<line x1="130.7" y1="295.3" x2="130.7" y2="296.7" stroke="#555" stroke-width="0.5"/>
<text x="132.3" y="297.5" font-size="4.5" text-anchor="end" fill="#333" transform="rotate(-90 132.3 297.5)">PCSK5</text>
<rect x="135.5" y="254.9" width="3.9" height="25.2" fill="#000000"/>
<text x="139.15" y="281.1" font-size="5.0" text-anchor="end" fill="#222" transform="rotate(-90 139.15 281.1)">* -1.44</text>
<line x1="137.45" y1="295.3" x2="137.45" y2="296.7" stroke="#555" stroke-width="0.5"/>
<text x="139.05" y="297.5" font-size="4.5" text-anchor="end" fill="#333" transform="rotate(-90 139.05 297.5)">CHRD</text>
<rect x="142.25" y="254.9" width="3.9" height="23.28" fill="#000000"/>
<text x="145.9" y="279.18" font-size="5.0" text-anchor="end" fill="#222" transform="rotate(-90 145.9 279.18)">* -1.33</text>
<line x1="144.2" y1="295.3" x2="144.2" y2="296.7" stroke="#555" stroke-width="0.5"/>
<text x="145.8" y="297.5" font-size="4.5" text-anchor="end" fill="#333" transform="rotate(-90 145.8 297.5)">SPRY1</text>
<rect x="149" y="254.9" width="3.9" height="16.28" fill="#000000"/>
<text x="152.65" y="272.18" font-size="5.0" text-anchor="end" fill="#222" transform="rotate(-90 152.65 272.18)">* -0.93</text>
<line x1="150.95" y1="295.3" x2="150.95" y2="296.7" stroke="#555" stroke-width="0.5"/>
<text x="152.55" y="297.5" font-size="4.5" text-anchor="end" fill="#333" transform="rotate(-90 152.55 297.5)">CRABP2</text>
<rect x="155.75" y="254.9" width="3.9" height="11.2" fill="#000000"/>
<text x="159.4" y="267.1" font-size="5.0" text-anchor="end" fill="#222" transform="rotate(-90 159.4 267.1)">* -0.64</text>
<line x1="157.7" y1="295.3" x2="157.7" y2="296.7" stroke="#555" stroke-width="0.5"/>
<text x="159.3" y="297.5" font-size="4.5" text-anchor="end" fill="#333" transform="rotate(-90 159.3 297.5)">TWIST1</text>
<rect x="162.5" y="254.9" width="3.9" height="9.97" fill="#000000"/>
<text x="166.15" y="265.88" font-size="5.0" text-anchor="end" fill="#222" transform="rotate(-90 166.15 265.88)">* -0.57</text>
<line x1="164.45" y1="295.3" x2="164.45" y2="296.7" stroke="#555" stroke-width="0.5"/>
<text x="166.05" y="297.5" font-size="4.5" text-anchor="end" fill="#333" transform="rotate(-90 166.05 297.5)">NAB1</text>
<rect x="169.25" y="254.9" width="3.9" height="9.8" fill="#000000"/>
<text x="172.9" y="265.7" font-size="5.0" text-anchor="end" fill="#222" transform="rotate(-90 172.9 265.7)">* -0.56</text>
<line x1="171.2" y1="295.3" x2="171.2" y2="296.7" stroke="#555" stroke-width="0.5"/>
<text x="172.8" y="297.5" font-size="4.5" text-anchor="end" fill="#333" transform="rotate(-90 172.8 297.5)">MID1</text>
<rect x="176" y="254.9" width="3.9" height="8.75" fill="#000000"/>
<text x="179.65" y="264.65" font-size="5.0" text-anchor="end" fill="#222" transform="rotate(-90 179.65 264.65)">* -0.50</text>
<line x1="177.95" y1="295.3" x2="177.95" y2="296.7" stroke="#555" stroke-width="0.5"/>
<text x="179.55" y="297.5" font-size="4.5" text-anchor="end" fill="#333" transform="rotate(-90 179.55 297.5)">FGD1</text>
<rect x="182.75" y="254.9" width="3.9" height="5.95" fill="#000000"/>
<text x="186.4" y="261.85" font-size="5.0" text-anchor="end" fill="#222" transform="rotate(-90 186.4 261.85)">* -0.34</text>
<line x1="184.7" y1="295.3" x2="184.7" y2="296.7" stroke="#555" stroke-width="0.5"/>
<text x="186.3" y="297.5" font-size="4.5" text-anchor="end" fill="#333" transform="rotate(-90 186.3 297.5)">CDH11</text>
<rect x="189.5" y="254.9" width="3.9" height="5.6" fill="#000000"/>
<text x="193.15" y="261.5" font-size="5.0" text-anchor="end" fill="#222" transform="rotate(-90 193.15 261.5)">* -0.32</text>
<line x1="191.45" y1="295.3" x2="191.45" y2="296.7" stroke="#555" stroke-width="0.5"/>
<text x="193.05" y="297.5" font-size="4.5" text-anchor="end" fill="#333" transform="rotate(-90 193.05 297.5)">IGSF10</text>
<rect x="196.25" y="254.9" width="3.9" height="2.45" fill="#000000"/>
<text x="199.9" y="258.35" font-size="5.0" text-anchor="end" fill="#222" transform="rotate(-90 199.9 258.35)">* -0.14</text>
<line x1="198.2" y1="295.3" x2="198.2" y2="296.7" stroke="#555" stroke-width="0.5"/>
<text x="199.8" y="297.5" font-size="4.5" text-anchor="end" fill="#333" transform="rotate(-90 199.8 297.5)">MADCAM1</text>
<rect x="203" y="249.65" width="3.9" height="5.25" fill="#000000"/>
<text x="206.65" y="248.65" font-size="5.0" fill="#222" transform="rotate(-90 206.65 248.65)">0.30 *</text>
<line x1="204.95" y1="295.3" x2="204.95" y2="296.7" stroke="#555" stroke-width="0.5"/>
<text x="206.55" y="297.5" font-size="4.5" text-anchor="end" fill="#333" transform="rotate(-90 206.55 297.5)">HSPG2</text>
<rect x="209.75" y="246.68" width="3.9" height="8.22" fill="#000000"/>
<text x="213.4" y="245.68" font-size="5.0" fill="#222" transform="rotate(-90 213.4 245.68)">0.47 *</text>
<line x1="211.7" y1="295.3" x2="211.7" y2="296.7" stroke="#555" stroke-width="0.5"/>
<text x="213.3" y="297.5" font-size="4.5" text-anchor="end" fill="#333" transform="rotate(-90 213.3 297.5)">SBDS</text>
<rect x="216.5" y="245.97" width="3.9" height="8.93" fill="#000000"/>
<text x="220.15" y="244.97" font-size="5.0" fill="#222" transform="rotate(-90 220.15 244.97)">0.51 *</text>
<line x1="218.45" y1="295.3" x2="218.45" y2="296.7" stroke="#555" stroke-width="0.5"/>
<text x="220.05" y="297.5" font-size="4.5" text-anchor="end" fill="#333" transform="rotate(-90 220.05 297.5)">PBX1</text>
<rect x="223.25" y="239.33" width="3.9" height="15.57" fill="#000000"/>
<text x="226.9" y="238.33" font-size="5.0" fill="#222" transform="rotate(-90 226.9 238.33)">0.89 *</text>
<line x1="225.2" y1="295.3" x2="225.2" y2="296.7" stroke="#555" stroke-width="0.5"/>
<text x="226.8" y="297.5" font-size="4.5" text-anchor="end" fill="#333" transform="rotate(-90 226.8 297.5)">SMAD6</text>
<rect x="230" y="234.6" width="3.9" height="20.3" fill="#000000"/>
<text x="233.65" y="233.6" font-size="5.0" fill="#222" transform="rotate(-90 233.65 233.6)">1.16 *</text>
<line x1="231.95" y1="295.3" x2="231.95" y2="296.7" stroke="#555" stroke-width="0.5"/>
<text x="233.55" y="297.5" font-size="4.5" text-anchor="end" fill="#333" transform="rotate(-90 233.55 297.5)">KIAA1217</text>
<rect x="236.75" y="232.85" width="3.9" height="22.05" fill="#000000"/>
<text x="240.4" y="231.85" font-size="5.0" fill="#222" transform="rotate(-90 240.4 231.85)">1.26 *</text>
<line x1="238.7" y1="295.3" x2="238.7" y2="296.7" stroke="#555" stroke-width="0.5"/>
<text x="240.3" y="297.5" font-size="4.5" text-anchor="end" fill="#333" transform="rotate(-90 240.3 297.5)">MCPH1</text>
<rect x="243.5" y="231.8" width="3.9" height="23.1" fill="#000000"/>
<text x="247.15" y="230.8" font-size="5.0" fill="#222" transform="rotate(-90 247.15 230.8)">1.32 *</text>
<line x1="245.45" y1="295.3" x2="245.45" y2="296.7" stroke="#555" stroke-width="0.5"/>
<text x="247.05" y="297.5" font-size="4.5" text-anchor="end" fill="#333" transform="rotate(-90 247.05 297.5)">PRKAA1</text>
<rect x="250.25" y="230.23" width="3.9" height="24.67" fill="#000000"/>
<text x="253.9" y="229.23" font-size="5.0" fill="#222" transform="rotate(-90 253.9 229.23)">1.41 *</text>
<line x1="252.2" y1="295.3" x2="252.2" y2="296.7" stroke="#555" stroke-width="0.5"/>
<text x="253.8" y="297.5" font-size="4.5" text-anchor="end" fill="#333" transform="rotate(-90 253.8 297.5)">KLF10</text>
<rect x="257" y="222.7" width="3.9" height="32.2" fill="#000000"/>
<text x="260.65" y="221.7" font-size="5.0" fill="#222" transform="rotate(-90 260.65 221.7)">1.84 *</text>
<line x1="258.95" y1="295.3" x2="258.95" y2="296.7" stroke="#555" stroke-width="0.5"/>
<text x="260.55" y="297.5" font-size="4.5" text-anchor="end" fill="#333" transform="rotate(-90 260.55 297.5)">BMP8B</text>
<rect x="263.75" y="220.43" width="3.9" height="34.47" fill="#000000"/>
<text x="267.4" y="219.43" font-size="5.0" fill="#222" transform="rotate(-90 267.4 219.43)">1.97 *</text>
<line x1="265.7" y1="295.3" x2="265.7" y2="296.7" stroke="#555" stroke-width="0.5"/>
<text x="267.3" y="297.5" font-size="4.5" text-anchor="end" fill="#333" transform="rotate(-90 267.3 297.5)">DLG5</text>
<rect x="270.5" y="207.48" width="3.9" height="47.42" fill="#000000"/>
<text x="274.15" y="206.48" font-size="5.0" fill="#222" transform="rotate(-90 274.15 206.48)">2.71 *</text>
<line x1="272.45" y1="295.3" x2="272.45" y2="296.7" stroke="#555" stroke-width="0.5"/>
<text x="274.05" y="297.5" font-size="4.5" text-anchor="end" fill="#333" transform="rotate(-90 274.05 297.5)">AP3M1</text>
<rect x="277.25" y="201.35" width="3.9" height="53.55" fill="#000000"/>
<text x="280.9" y="200.35" font-size="5.0" fill="#222" transform="rotate(-90 280.9 200.35)">3.06 *</text>
<line x1="279.2" y1="295.3" x2="279.2" y2="296.7" stroke="#555" stroke-width="0.5"/>
<text x="280.8" y="297.5" font-size="4.5" text-anchor="end" fill="#333" transform="rotate(-90 280.8 297.5)">USP1</text>
<rect x="284" y="201.53" width="3.9" height="53.38" fill="#000000"/>
<text x="287.65" y="200.53" font-size="5.0" fill="#222" transform="rotate(-90 287.65 200.53)">3.05 *</text>
<line x1="285.95" y1="295.3" x2="285.95" y2="296.7" stroke="#555" stroke-width="0.5"/>
<text x="287.55" y="297.5" font-size="4.5" text-anchor="end" fill="#333" transform="rotate(-90 287.55 297.5)">INSIG1</text>
<rect x="290.75" y="254.9" width="3.9" height="24.33" fill="#1f6fd0"/>
<text x="294.4" y="280.23" font-size="5.0" text-anchor="end" fill="#222" transform="rotate(-90 294.4 280.23)">* -1.39</text>
<line x1="292.7" y1="295.3" x2="292.7" y2="296.7" stroke="#555" stroke-width="0.5"/>
<text x="294.3" y="297.5" font-size="4.5" text-anchor="end" fill="#333" transform="rotate(-90 294.3 297.5)">SHC3</text>
<rect x="297.5" y="254.9" width="3.9" height="18.55" fill="#1f6fd0"/>
<text x="301.15" y="274.45" font-size="5.0" text-anchor="end" fill="#222" transform="rotate(-90 301.15 274.45)">* -1.06</text>
<line x1="299.45" y1="295.3" x2="299.45" y2="296.7" stroke="#555" stroke-width="0.5"/>
<text x="301.05" y="297.5" font-size="4.5" text-anchor="end" fill="#333" transform="rotate(-90 301.05 297.5)">NRCAM</text>
<rect x="304.25" y="254.9" width="3.9" height="12.08" fill="#1f6fd0"/>
<text x="307.9" y="267.98" font-size="5.0" text-anchor="end" fill="#222" transform="rotate(-90 307.9 267.98)">* -0.69</text>
<line x1="306.2" y1="295.3" x2="306.2" y2="296.7" stroke="#555" stroke-width="0.5"/>
<text x="307.8" y="297.5" font-size="4.5" text-anchor="end" fill="#333" transform="rotate(-90 307.8 297.5)">PCDHB8</text>
<rect x="311" y="254.9" width="3.9" height="7.7" fill="#1f6fd0"/>
<text x="314.65" y="263.6" font-size="5.0" text-anchor="end" fill="#222" transform="rotate(-90 314.65 263.6)">* -0.44</text>
<line x1="312.95" y1="295.3" x2="312.95" y2="296.7" stroke="#555" stroke-width="0.5"/>
<text x="314.55" y="297.5" font-size="4.5" text-anchor="end" fill="#333" transform="rotate(-90 314.55 297.5)">PCDHB10</text>
<rect x="317.75" y="236" width="3.9" height="18.9" fill="#1f6fd0"/>
<text x="321.4" y="235" font-size="5.0" fill="#222" transform="rotate(-90 321.4 235)">1.08 *</text>
<line x1="319.7" y1="295.3" x2="319.7" y2="296.7" stroke="#555" stroke-width="0.5"/>
<text x="321.3" y="297.5" font-size="4.5" text-anchor="end" fill="#333" transform="rotate(-90 321.3 297.5)">ITGB3</text>
<rect x="324.5" y="234.6" width="3.9" height="20.3" fill="#1f6fd0"/>
<text x="328.15" y="233.6" font-size="5.0" fill="#222" transform="rotate(-90 328.15 233.6)">1.16 *</text>
<line x1="326.45" y1="295.3" x2="326.45" y2="296.7" stroke="#555" stroke-width="0.5"/>
<text x="328.05" y="297.5" font-size="4.5" text-anchor="end" fill="#333" transform="rotate(-90 328.05 297.5)">PSMA5</text>
<rect x="331.25" y="227.43" width="3.9" height="27.47" fill="#1f6fd0"/>
<text x="334.9" y="226.43" font-size="5.0" fill="#222" transform="rotate(-90 334.9 226.43)">1.57 *</text>
<line x1="333.2" y1="295.3" x2="333.2" y2="296.7" stroke="#555" stroke-width="0.5"/>
<text x="334.8" y="297.5" font-size="4.5" text-anchor="end" fill="#333" transform="rotate(-90 334.8 297.5)">MEF2C</text>
<rect x="338" y="224.1" width="3.9" height="30.8" fill="#1f6fd0"/>
<text x="341.65" y="223.1" font-size="5.0" fill="#222" transform="rotate(-90 341.65 223.1)">1.76 *</text>
<line x1="339.95" y1="295.3" x2="339.95" y2="296.7" stroke="#555" stroke-width="0.5"/>
<text x="341.55" y="297.5" font-size="4.5" text-anchor="end" fill="#333" transform="rotate(-90 341.55 297.5)">VAX2</text>
<rect x="344.75" y="222" width="3.9" height="32.9" fill="#1f6fd0"/>
<text x="348.4" y="221" font-size="5.0" fill="#222" transform="rotate(-90 348.4 221)">1.88 *</text>
<line x1="346.7" y1="295.3" x2="346.7" y2="296.7" stroke="#555" stroke-width="0.5"/>
<text x="348.3" y="297.5" font-size="4.5" text-anchor="end" fill="#333" transform="rotate(-90 348.3 297.5)">CREB1</text>
<rect x="66.5" y="161.5" width="284.2" height="133.8" fill="none" stroke="#999" stroke-width="0.9"/>
<line x1="350.7" y1="289.9" x2="352.7" y2="289.9" stroke="#555" stroke-width="0.7"/>
<text x="358.6" y="293.3" font-size="9.7">-2</text>
<line x1="350.7" y1="272.4" x2="352.7" y2="272.4" stroke="#555" stroke-width="0.7"/>
<text x="358.6" y="275.8" font-size="9.7">-1</text>
<line x1="350.7" y1="254.9" x2="352.7" y2="254.9" stroke="#555" stroke-width="0.7"/>
<text x="358.6" y="258.3" font-size="9.7">0</text>
<line x1="350.7" y1="237.4" x2="352.7" y2="237.4" stroke="#555" stroke-width="0.7"/>
<text x="358.6" y="240.8" font-size="9.7">1</text>
<line x1="350.7" y1="219.9" x2="352.7" y2="219.9" stroke="#555" stroke-width="0.7"/>
<text x="358.6" y="223.3" font-size="9.7">2</text>
<line x1="350.7" y1="202.4" x2="352.7" y2="202.4" stroke="#555" stroke-width="0.7"/>
<text x="358.6" y="205.8" font-size="9.7">3</text>
<line x1="350.7" y1="184.9" x2="352.7" y2="184.9" stroke="#555" stroke-width="0.7"/>
<text x="358.6" y="188.3" font-size="9.7">4</text>
<line x1="350.7" y1="167.4" x2="352.7" y2="167.4" stroke="#555" stroke-width="0.7"/>
<text x="358.6" y="170.8" font-size="9.7">5</text>
<text x="379.6" y="228.4" font-size="9.8" text-anchor="middle" transform="rotate(-90 379.6 228.4)">-log2 Fold Change</text>
<text x="426.3" y="166.2" font-size="12.5" font-weight="bold">d</text>
<line x1="470.4" y1="186" x2="470.4" y2="283.3" stroke="#000" stroke-width="1.2"/>
<line x1="467.6" y1="282.9" x2="470.4" y2="282.9" stroke="#000" stroke-width="0.8"/>
<text x="464.6" y="286.4" font-size="9.75" text-anchor="end">0.00</text>
<line x1="467.6" y1="263.6" x2="470.4" y2="263.6" stroke="#000" stroke-width="0.8"/>
<text x="464.6" y="267.1" font-size="9.75" text-anchor="end">0.25</text>
<line x1="467.6" y1="244.3" x2="470.4" y2="244.3" stroke="#000" stroke-width="0.8"/>
<text x="464.6" y="247.8" font-size="9.75" text-anchor="end">0.50</text>
<line x1="467.6" y1="225" x2="470.4" y2="225" stroke="#000" stroke-width="0.8"/>
<text x="464.6" y="228.5" font-size="9.75" text-anchor="end">0.75</text>
<line x1="467.6" y1="205.7" x2="470.4" y2="205.7" stroke="#000" stroke-width="0.8"/>
<text x="464.6" y="209.2" font-size="9.75" text-anchor="end">1.00</text>
<line x1="467.6" y1="186.4" x2="470.4" y2="186.4" stroke="#000" stroke-width="0.8"/>
<text x="464.6" y="189.9" font-size="9.75" text-anchor="end">1.25</text>
<text x="438.4" y="235" font-size="9.82" text-anchor="middle" transform="rotate(-90 438.4 235)">Relative Expression levels</text>
<rect x="474.2" y="221.14" width="6.95" height="61.76" fill="#ffffff" stroke="#000" stroke-width="0.85"/>
<line x1="477.68" y1="221.14" x2="477.68" y2="212.65" stroke="#333" stroke-width="0.7"/>
<line x1="476.07" y1="212.65" x2="479.28" y2="212.65" stroke="#333" stroke-width="0.7"/>
<rect x="481.15" y="262.06" width="6.95" height="20.84" fill="#5a9cf0" stroke="#000" stroke-width="0.85"/>
<line x1="484.62" y1="262.06" x2="484.62" y2="261.28" stroke="#000" stroke-width="0.7"/>
<line x1="483.02" y1="261.28" x2="486.23" y2="261.28" stroke="#000" stroke-width="0.7"/>
<rect x="488.1" y="267.46" width="6.95" height="15.44" fill="#c8105a" stroke="#000" stroke-width="0.85"/>
<line x1="491.57" y1="267.46" x2="491.57" y2="266.69" stroke="#000" stroke-width="0.7"/>
<line x1="489.97" y1="266.69" x2="493.18" y2="266.69" stroke="#000" stroke-width="0.7"/>
<rect x="495.05" y="267.46" width="6.95" height="15.44" fill="#3de8a0" stroke="#000" stroke-width="0.85"/>
<line x1="498.53" y1="267.46" x2="498.53" y2="266.69" stroke="#000" stroke-width="0.7"/>
<line x1="496.93" y1="266.69" x2="500.13" y2="266.69" stroke="#000" stroke-width="0.7"/>
<line x1="488.1" y1="283.3" x2="488.1" y2="286.2" stroke="#000" stroke-width="0.8"/>
<text x="479.5" y="306.8" font-size="10.0" text-anchor="middle" fill="#000" transform="rotate(-30 479.5 303.2)">PCDHB8</text>
<rect x="508.35" y="205.7" width="6.95" height="77.2" fill="#ffffff" stroke="#000" stroke-width="0.85"/>
<line x1="511.82" y1="205.7" x2="511.82" y2="194.51" stroke="#333" stroke-width="0.7"/>
<line x1="510.22" y1="194.51" x2="513.42" y2="194.51" stroke="#333" stroke-width="0.7"/>
<rect x="515.3" y="238.9" width="6.95" height="44" fill="#5a9cf0" stroke="#000" stroke-width="0.85"/>
<line x1="518.77" y1="238.9" x2="518.77" y2="236.58" stroke="#000" stroke-width="0.7"/>
<line x1="517.17" y1="236.58" x2="520.38" y2="236.58" stroke="#000" stroke-width="0.7"/>
<rect x="522.25" y="248.93" width="6.95" height="33.97" fill="#c8105a" stroke="#000" stroke-width="0.85"/>
<line x1="525.73" y1="248.93" x2="525.73" y2="246.62" stroke="#000" stroke-width="0.7"/>
<line x1="524.12" y1="246.62" x2="527.33" y2="246.62" stroke="#000" stroke-width="0.7"/>
<rect x="529.2" y="238.9" width="6.95" height="44" fill="#3de8a0" stroke="#000" stroke-width="0.85"/>
<line x1="532.67" y1="238.9" x2="532.67" y2="236.58" stroke="#000" stroke-width="0.7"/>
<line x1="531.07" y1="236.58" x2="534.27" y2="236.58" stroke="#000" stroke-width="0.7"/>
<line x1="522.25" y1="283.3" x2="522.25" y2="286.2" stroke="#000" stroke-width="0.8"/>
<text x="512.5" y="307.9" font-size="10.0" text-anchor="middle" fill="#000" transform="rotate(-30 512.5 304.3)">PCDHB10</text>
<rect x="542.5" y="207.24" width="6.95" height="75.66" fill="#ffffff" stroke="#000" stroke-width="0.85"/>
<line x1="545.98" y1="207.24" x2="545.98" y2="203.38" stroke="#333" stroke-width="0.7"/>
<line x1="544.38" y1="203.38" x2="547.58" y2="203.38" stroke="#333" stroke-width="0.7"/>
<rect x="549.45" y="255.11" width="6.95" height="27.79" fill="#5a9cf0" stroke="#000" stroke-width="0.85"/>
<line x1="552.93" y1="255.11" x2="552.93" y2="254.34" stroke="#000" stroke-width="0.7"/>
<line x1="551.33" y1="254.34" x2="554.53" y2="254.34" stroke="#000" stroke-width="0.7"/>
<rect x="556.4" y="259.74" width="6.95" height="23.16" fill="#c8105a" stroke="#000" stroke-width="0.85"/>
<line x1="559.88" y1="259.74" x2="559.88" y2="258.2" stroke="#000" stroke-width="0.7"/>
<line x1="558.27" y1="258.2" x2="561.48" y2="258.2" stroke="#000" stroke-width="0.7"/>
<rect x="563.35" y="258.97" width="6.95" height="23.93" fill="#3de8a0" stroke="#000" stroke-width="0.85"/>
<line x1="566.83" y1="258.97" x2="566.83" y2="256.65" stroke="#000" stroke-width="0.7"/>
<line x1="565.23" y1="256.65" x2="568.43" y2="256.65" stroke="#000" stroke-width="0.7"/>
<line x1="556.4" y1="283.3" x2="556.4" y2="286.2" stroke="#000" stroke-width="0.8"/>
<text x="548.7" y="307.9" font-size="10.0" text-anchor="middle" fill="#000" transform="rotate(-30 548.7 304.3)">PCDHB15</text>
<rect x="576.65" y="211.1" width="6.95" height="71.8" fill="#ffffff" stroke="#000" stroke-width="0.85"/>
<line x1="580.12" y1="211.1" x2="580.12" y2="206.47" stroke="#333" stroke-width="0.7"/>
<line x1="578.52" y1="206.47" x2="581.73" y2="206.47" stroke="#333" stroke-width="0.7"/>
<rect x="583.6" y="281.74" width="6.95" height="1.16" fill="#5a9cf0" stroke="#000" stroke-width="0.85"/>
<line x1="587.08" y1="281.74" x2="587.08" y2="281.36" stroke="#000" stroke-width="0.7"/>
<line x1="585.48" y1="281.36" x2="588.68" y2="281.36" stroke="#000" stroke-width="0.7"/>
<rect x="590.55" y="277.34" width="6.95" height="5.56" fill="#c8105a" stroke="#000" stroke-width="0.85"/>
<line x1="594.02" y1="277.34" x2="594.02" y2="276.34" stroke="#000" stroke-width="0.7"/>
<line x1="592.42" y1="276.34" x2="595.62" y2="276.34" stroke="#000" stroke-width="0.7"/>
<rect x="597.5" y="279.66" width="6.95" height="3.24" fill="#3de8a0" stroke="#000" stroke-width="0.85"/>
<line x1="600.98" y1="279.66" x2="600.98" y2="278.65" stroke="#000" stroke-width="0.7"/>
<line x1="599.38" y1="278.65" x2="602.58" y2="278.65" stroke="#000" stroke-width="0.7"/>
<line x1="590.55" y1="283.3" x2="590.55" y2="286.2" stroke="#000" stroke-width="0.8"/>
<text x="590" y="303.6" font-size="10.0" text-anchor="middle" fill="#000" transform="rotate(-30 590 300)">SHC3</text>
<line x1="470.4" y1="283.3" x2="608.3" y2="283.3" stroke="#000" stroke-width="1.2"/>
<circle cx="477.8" cy="205.7" r="0.95" fill="#707070"/>
<circle cx="477.8" cy="223" r="0.95" fill="#707070"/>
<circle cx="477.8" cy="233.6" r="0.95" fill="#707070"/>
<circle cx="512" cy="186.7" r="0.95" fill="#707070"/>
<circle cx="512" cy="224.1" r="0.95" fill="#707070"/>
<circle cx="519" cy="233.6" r="0.95" fill="#707070"/>
<circle cx="519" cy="242" r="0.95" fill="#707070"/>
<circle cx="519" cy="246" r="0.95" fill="#707070"/>
<circle cx="525.5" cy="250" r="0.95" fill="#707070"/>
<circle cx="525.5" cy="254" r="0.95" fill="#707070"/>
<circle cx="532.3" cy="238" r="0.95" fill="#707070"/>
<circle cx="532.3" cy="243" r="0.95" fill="#707070"/>
<circle cx="546" cy="197" r="0.95" fill="#707070"/>
<circle cx="546.3" cy="210.5" r="0.95" fill="#707070"/>
<circle cx="552.8" cy="256" r="0.95" fill="#707070"/>
<circle cx="559.5" cy="261" r="0.95" fill="#707070"/>
<circle cx="566.5" cy="261" r="0.95" fill="#707070"/>
<circle cx="580" cy="218.5" r="0.95" fill="#707070"/>
<circle cx="580" cy="210" r="0.95" fill="#707070"/>
<circle cx="594" cy="278" r="0.95" fill="#707070"/>
<circle cx="601" cy="280" r="0.95" fill="#707070"/>
<text x="484.4" y="253" font-size="6.2" text-anchor="middle" fill="#333">**</text>
<text x="491.6" y="257.2" font-size="6.2" text-anchor="middle" fill="#333">**</text>
<text x="498.5" y="257.2" font-size="6.2" text-anchor="middle" fill="#333">**</text>
<text x="519" y="227.6" font-size="6.2" text-anchor="middle" fill="#333">*</text>
<text x="525.5" y="239.7" font-size="6.2" text-anchor="middle" fill="#333">*</text>
<text x="532.5" y="227.6" font-size="6.2" text-anchor="middle" fill="#333">*</text>
<text x="553.4" y="247.1" font-size="6.2" text-anchor="middle" fill="#333">***</text>
<text x="560.6" y="251.1" font-size="6.2" text-anchor="middle" fill="#333">***</text>
<text x="567.4" y="247.1" font-size="6.2" text-anchor="middle" fill="#333">***</text>
<text x="586.7" y="271.2" font-size="6.2" text-anchor="middle" fill="#333">***</text>
<text x="594.7" y="265.2" font-size="6.2" text-anchor="middle" fill="#333">***</text>
<text x="602" y="271.2" font-size="6.2" text-anchor="middle" fill="#333">***</text>
<rect x="596.3" y="170.5" width="13.2" height="6.5" fill="#ffffff" stroke="#000" stroke-width="0.7"/>
<text x="612.6" y="177.2" font-size="9.7">C</text>
<rect x="596.3" y="184.25" width="13.2" height="6.5" fill="#5a9cf0" stroke="#000" stroke-width="0.7"/>
<text x="612.6" y="190.95" font-size="9.7">P1</text>
<rect x="596.3" y="198" width="13.2" height="6.5" fill="#c8105a" stroke="#000" stroke-width="0.7"/>
<text x="612.6" y="204.7" font-size="9.7">P2</text>
<rect x="596.3" y="211.75" width="13.2" height="6.5" fill="#3de8a0" stroke="#000" stroke-width="0.7"/>
<text x="612.6" y="218.45" font-size="9.7">P3</text>
<text x="20.6" y="339.6" font-size="12.5" font-weight="bold">e</text>
<text x="36.1" y="403.2" font-size="9.9" text-anchor="middle" transform="rotate(-90 36.1 403.2)">Relative Expression levels</text>
<rect x="229.5" y="343.2" width="13.2" height="6.4" fill="#ffffff" stroke="#000" stroke-width="0.7"/>
<text x="250.2" y="349.9" font-size="9.7">C</text>
<rect x="297.8" y="343.2" width="13.2" height="6.4" fill="#5a9cf0" stroke="#000" stroke-width="0.7"/>
<text x="317.8" y="349.9" font-size="9.7">P1</text>
<rect x="371" y="343.2" width="13.2" height="6.4" fill="#c8105a" stroke="#000" stroke-width="0.7"/>
<text x="390.6" y="349.9" font-size="9.7">P2</text>
<rect x="443.2" y="343.2" width="13.2" height="6.4" fill="#3de8a0" stroke="#000" stroke-width="0.7"/>
<text x="462.8" y="349.9" font-size="9.7">P3</text>
<line x1="64" y1="360.7" x2="64" y2="377" stroke="#000" stroke-width="1.2"/>
<line x1="64" y1="381.8" x2="64" y2="444.5" stroke="#000" stroke-width="1.2"/>
<line x1="61.4" y1="361.1" x2="64" y2="361.1" stroke="#000" stroke-width="0.95"/>
<text x="59.3" y="362.9" font-size="9.85" text-anchor="end">200</text>
<line x1="61.4" y1="376.6" x2="64" y2="376.6" stroke="#000" stroke-width="0.95"/>
<line x1="64" y1="376.6" x2="66.6" y2="376.6" stroke="#000" stroke-width="1.1"/>
<text x="59.3" y="378" font-size="9.85" text-anchor="end">100</text>
<line x1="61.4" y1="382.2" x2="64" y2="382.2" stroke="#000" stroke-width="0.95"/>
<line x1="64" y1="382.2" x2="66.6" y2="382.2" stroke="#000" stroke-width="1.1"/>
<text x="59.3" y="387.2" font-size="9.85" text-anchor="end">40</text>
<line x1="61.4" y1="397.75" x2="64" y2="397.75" stroke="#000" stroke-width="0.95"/>
<text x="59.3" y="401.25" font-size="9.85" text-anchor="end">30</text>
<line x1="61.4" y1="413.2" x2="64" y2="413.2" stroke="#000" stroke-width="0.95"/>
<text x="59.3" y="416.7" font-size="9.85" text-anchor="end">20</text>
<line x1="61.4" y1="428.65" x2="64" y2="428.65" stroke="#000" stroke-width="0.95"/>
<text x="59.3" y="432.15" font-size="9.85" text-anchor="end">10</text>
<line x1="61.4" y1="444.1" x2="64" y2="444.1" stroke="#000" stroke-width="0.95"/>
<text x="59.3" y="447.6" font-size="9.85" text-anchor="end">0</text>
<rect x="67.6" y="442.56" width="8.3" height="1.55" fill="#ffffff" stroke="#555" stroke-width="0.6"/>
<line x1="71.75" y1="442.56" x2="71.75" y2="442.09" stroke="#222" stroke-width="0.7"/>
<line x1="69.95" y1="442.09" x2="73.55" y2="442.09" stroke="#222" stroke-width="0.7"/>
<rect x="75.9" y="438.69" width="8.3" height="5.41" fill="#5a9cf0" stroke="#111" stroke-width="0.85"/>
<line x1="80.05" y1="438.69" x2="80.05" y2="437.61" stroke="#222" stroke-width="0.7"/>
<line x1="78.25" y1="437.61" x2="81.85" y2="437.61" stroke="#222" stroke-width="0.7"/>
<rect x="84.2" y="438.69" width="8.3" height="5.41" fill="#c8105a" stroke="#111" stroke-width="0.85"/>
<line x1="88.35" y1="438.69" x2="88.35" y2="437.61" stroke="#222" stroke-width="0.7"/>
<line x1="86.55" y1="437.61" x2="90.15" y2="437.61" stroke="#222" stroke-width="0.7"/>
<rect x="92.5" y="437.61" width="8.3" height="6.49" fill="#3de8a0" stroke="#111" stroke-width="0.85"/>
<line x1="96.65" y1="437.61" x2="96.65" y2="435.14" stroke="#222" stroke-width="0.7"/>
<line x1="94.85" y1="435.14" x2="98.45" y2="435.14" stroke="#222" stroke-width="0.7"/>
<line x1="84.2" y1="444.1" x2="84.2" y2="446.9" stroke="#000" stroke-width="0.8"/>
<text x="84" y="462.53" font-size="9.8" text-anchor="middle" fill="#000" transform="rotate(-29 84 459)">HOXB3</text>
<rect x="109" y="442.56" width="8.3" height="1.55" fill="#ffffff" stroke="#555" stroke-width="0.6"/>
<line x1="113.15" y1="442.56" x2="113.15" y2="442.09" stroke="#222" stroke-width="0.7"/>
<line x1="111.35" y1="442.09" x2="114.95" y2="442.09" stroke="#222" stroke-width="0.7"/>
<rect x="117.3" y="409.34" width="8.3" height="34.76" fill="#5a9cf0" stroke="#111" stroke-width="0.85"/>
<line x1="121.45" y1="409.34" x2="121.45" y2="406.25" stroke="#222" stroke-width="0.7"/>
<line x1="119.65" y1="406.25" x2="123.25" y2="406.25" stroke="#222" stroke-width="0.7"/>
<rect x="125.6" y="434.37" width="8.3" height="9.73" fill="#c8105a" stroke="#111" stroke-width="0.85"/>
<line x1="129.75" y1="434.37" x2="129.75" y2="432.51" stroke="#222" stroke-width="0.7"/>
<line x1="127.95" y1="432.51" x2="131.55" y2="432.51" stroke="#222" stroke-width="0.7"/>
<rect x="133.9" y="433.29" width="8.3" height="10.81" fill="#3de8a0" stroke="#111" stroke-width="0.85"/>
<line x1="138.05" y1="433.29" x2="138.05" y2="432.05" stroke="#222" stroke-width="0.7"/>
<line x1="136.25" y1="432.05" x2="139.85" y2="432.05" stroke="#222" stroke-width="0.7"/>
<line x1="125.6" y1="444.1" x2="125.6" y2="446.9" stroke="#000" stroke-width="0.8"/>
<text x="123.7" y="462.53" font-size="9.8" text-anchor="middle" fill="#000" transform="rotate(-29 123.7 459)">HOXB5</text>
<rect x="150.4" y="442.56" width="8.3" height="1.55" fill="#ffffff" stroke="#555" stroke-width="0.6"/>
<line x1="154.55" y1="442.56" x2="154.55" y2="442.09" stroke="#222" stroke-width="0.7"/>
<line x1="152.75" y1="442.09" x2="156.35" y2="442.09" stroke="#222" stroke-width="0.7"/>
<rect x="158.7" y="382.3" width="8.3" height="61.8" fill="#5a9cf0"/>
<line x1="158.7" y1="382.3" x2="158.7" y2="444.1" stroke="#111" stroke-width="0.85"/>
<line x1="167" y1="382.3" x2="167" y2="444.1" stroke="#111" stroke-width="0.85"/>
<rect x="158.7" y="371.18" width="8.3" height="5.43" fill="#5a9cf0"/>
<path d="M158.7,376.6 V371.18 H167 V376.6" fill="none" stroke="#111" stroke-width="0.85"/>
<line x1="162.85" y1="371.18" x2="162.85" y2="366.5" stroke="#222" stroke-width="0.7"/>
<line x1="161.05" y1="366.5" x2="164.65" y2="366.5" stroke="#222" stroke-width="0.7"/>
<rect x="167" y="386.94" width="8.3" height="57.17" fill="#c8105a" stroke="#111" stroke-width="0.85"/>
<line x1="171.15" y1="386.94" x2="171.15" y2="383.85" stroke="#222" stroke-width="0.7"/>
<line x1="169.35" y1="383.85" x2="172.95" y2="383.85" stroke="#222" stroke-width="0.7"/>
<rect x="175.3" y="382.3" width="8.3" height="61.8" fill="#3de8a0"/>
<line x1="175.3" y1="382.3" x2="175.3" y2="444.1" stroke="#111" stroke-width="0.85"/>
<line x1="183.6" y1="382.3" x2="183.6" y2="444.1" stroke="#111" stroke-width="0.85"/>
<rect x="175.3" y="370.09" width="8.3" height="6.51" fill="#3de8a0"/>
<path d="M175.3,376.6 V370.09 H183.6 V376.6" fill="none" stroke="#111" stroke-width="0.85"/>
<line x1="179.45" y1="370.09" x2="179.45" y2="365.9" stroke="#222" stroke-width="0.7"/>
<line x1="177.65" y1="365.9" x2="181.25" y2="365.9" stroke="#222" stroke-width="0.7"/>
<line x1="167" y1="444.1" x2="167" y2="446.9" stroke="#000" stroke-width="0.8"/>
<text x="164" y="462.53" font-size="9.8" text-anchor="middle" fill="#000" transform="rotate(-29 164 459)">HOXB8</text>
<line x1="64" y1="444.1" x2="188.7" y2="444.1" stroke="#000" stroke-width="1.2"/>
<line x1="235.6" y1="360.3" x2="235.6" y2="399.4" stroke="#000" stroke-width="1.2"/>
<line x1="235.6" y1="405.1" x2="235.6" y2="444.6" stroke="#000" stroke-width="1.2"/>
<line x1="233" y1="360.7" x2="235.6" y2="360.7" stroke="#000" stroke-width="0.95"/>
<text x="229.3" y="364.2" font-size="9.85" text-anchor="end">10000</text>
<line x1="233" y1="373.47" x2="235.6" y2="373.47" stroke="#000" stroke-width="0.95"/>
<text x="229.3" y="376.97" font-size="9.85" text-anchor="end">8000</text>
<line x1="233" y1="386.23" x2="235.6" y2="386.23" stroke="#000" stroke-width="0.95"/>
<text x="229.3" y="389.73" font-size="9.85" text-anchor="end">6000</text>
<line x1="233" y1="399" x2="235.6" y2="399" stroke="#000" stroke-width="0.95"/>
<line x1="235.6" y1="399" x2="238.2" y2="399" stroke="#000" stroke-width="1.1"/>
<text x="229.3" y="401.2" font-size="9.85" text-anchor="end">4000</text>
<line x1="233" y1="405.5" x2="235.6" y2="405.5" stroke="#000" stroke-width="0.95"/>
<line x1="235.6" y1="405.5" x2="238.2" y2="405.5" stroke="#000" stroke-width="1.1"/>
<text x="229.3" y="410.3" font-size="9.85" text-anchor="end">15</text>
<line x1="233" y1="418.53" x2="235.6" y2="418.53" stroke="#000" stroke-width="0.95"/>
<text x="229.3" y="422.03" font-size="9.85" text-anchor="end">10</text>
<line x1="233" y1="431.37" x2="235.6" y2="431.37" stroke="#000" stroke-width="0.95"/>
<text x="229.3" y="434.87" font-size="9.85" text-anchor="end">5</text>
<line x1="233" y1="444.2" x2="235.6" y2="444.2" stroke="#000" stroke-width="0.95"/>
<text x="229.3" y="447.7" font-size="9.85" text-anchor="end">0</text>
<rect x="239.1" y="441.63" width="6.15" height="2.57" fill="#ffffff" stroke="#555" stroke-width="0.6"/>
<line x1="242.17" y1="441.63" x2="242.17" y2="440.86" stroke="#222" stroke-width="0.7"/>
<line x1="240.45" y1="440.86" x2="243.9" y2="440.86" stroke="#222" stroke-width="0.7"/>
<rect x="245.25" y="420.07" width="6.15" height="24.13" fill="#5a9cf0" stroke="#111" stroke-width="0.85"/>
<line x1="248.32" y1="420.07" x2="248.32" y2="417.76" stroke="#222" stroke-width="0.7"/>
<line x1="246.6" y1="417.76" x2="250.05" y2="417.76" stroke="#222" stroke-width="0.7"/>
<circle cx="248.32" cy="418.87" r="0.9" fill="#6a6a6a"/>
<circle cx="248.32" cy="422.67" r="0.9" fill="#6a6a6a"/>
<rect x="251.4" y="424.43" width="6.15" height="19.77" fill="#c8105a" stroke="#111" stroke-width="0.85"/>
<line x1="254.47" y1="424.43" x2="254.47" y2="421.61" stroke="#222" stroke-width="0.7"/>
<line x1="252.75" y1="421.61" x2="256.2" y2="421.61" stroke="#222" stroke-width="0.7"/>
<circle cx="254.47" cy="423.23" r="0.9" fill="#6a6a6a"/>
<circle cx="254.47" cy="427.03" r="0.9" fill="#6a6a6a"/>
<rect x="257.55" y="423.92" width="6.15" height="20.28" fill="#3de8a0" stroke="#111" stroke-width="0.85"/>
<line x1="260.62" y1="423.92" x2="260.62" y2="422.38" stroke="#222" stroke-width="0.7"/>
<line x1="258.9" y1="422.38" x2="262.35" y2="422.38" stroke="#222" stroke-width="0.7"/>
<circle cx="260.62" cy="422.72" r="0.9" fill="#6a6a6a"/>
<circle cx="260.62" cy="426.52" r="0.9" fill="#6a6a6a"/>
<line x1="251.4" y1="444.2" x2="251.4" y2="447" stroke="#000" stroke-width="0.8"/>
<text x="246.3" y="462.73" font-size="9.8" text-anchor="middle" fill="#000" transform="rotate(-29 246.3 459.2)">HOXC6</text>
<rect x="270.2" y="441.63" width="6.15" height="2.57" fill="#ffffff" stroke="#555" stroke-width="0.6"/>
<line x1="273.27" y1="441.63" x2="273.27" y2="440.86" stroke="#222" stroke-width="0.7"/>
<line x1="271.55" y1="440.86" x2="275" y2="440.86" stroke="#222" stroke-width="0.7"/>
<rect x="276.35" y="413.4" width="6.15" height="30.8" fill="#5a9cf0" stroke="#111" stroke-width="0.85"/>
<line x1="279.42" y1="413.4" x2="279.42" y2="411.34" stroke="#222" stroke-width="0.7"/>
<line x1="277.7" y1="411.34" x2="281.15" y2="411.34" stroke="#222" stroke-width="0.7"/>
<circle cx="279.42" cy="412.2" r="0.9" fill="#6a6a6a"/>
<circle cx="279.42" cy="416" r="0.9" fill="#6a6a6a"/>
<rect x="282.5" y="415.45" width="6.15" height="28.75" fill="#c8105a" stroke="#111" stroke-width="0.85"/>
<line x1="285.57" y1="415.45" x2="285.57" y2="412.37" stroke="#222" stroke-width="0.7"/>
<line x1="283.85" y1="412.37" x2="287.3" y2="412.37" stroke="#222" stroke-width="0.7"/>
<circle cx="285.57" cy="414.25" r="0.9" fill="#6a6a6a"/>
<circle cx="285.57" cy="418.05" r="0.9" fill="#6a6a6a"/>
<rect x="288.65" y="419.56" width="6.15" height="24.64" fill="#3de8a0" stroke="#111" stroke-width="0.85"/>
<line x1="291.72" y1="419.56" x2="291.72" y2="415.71" stroke="#222" stroke-width="0.7"/>
<line x1="290" y1="415.71" x2="293.45" y2="415.71" stroke="#222" stroke-width="0.7"/>
<circle cx="291.72" cy="418.36" r="0.9" fill="#6a6a6a"/>
<circle cx="291.72" cy="422.16" r="0.9" fill="#6a6a6a"/>
<line x1="282.5" y1="444.2" x2="282.5" y2="447" stroke="#000" stroke-width="0.8"/>
<text x="277.5" y="462.73" font-size="9.8" text-anchor="middle" fill="#000" transform="rotate(-29 277.5 459.2)">HOXC9</text>
<rect x="301.3" y="442.15" width="6.15" height="2.05" fill="#ffffff" stroke="#555" stroke-width="0.6"/>
<line x1="304.38" y1="442.15" x2="304.38" y2="441.38" stroke="#222" stroke-width="0.7"/>
<line x1="302.65" y1="441.38" x2="306.1" y2="441.38" stroke="#222" stroke-width="0.7"/>
<rect x="307.45" y="405.69" width="6.15" height="38.5" fill="#5a9cf0"/>
<line x1="307.45" y1="405.69" x2="307.45" y2="444.2" stroke="#111" stroke-width="0.85"/>
<line x1="313.6" y1="405.69" x2="313.6" y2="444.2" stroke="#111" stroke-width="0.85"/>
<rect x="307.45" y="390.06" width="6.15" height="8.94" fill="#5a9cf0"/>
<path d="M307.45,399 V390.06 H313.6 V399" fill="none" stroke="#111" stroke-width="0.85"/>
<line x1="310.52" y1="390.06" x2="310.52" y2="386.68" stroke="#222" stroke-width="0.7"/>
<line x1="308.8" y1="386.68" x2="312.25" y2="386.68" stroke="#222" stroke-width="0.7"/>
<circle cx="310.52" cy="388.86" r="0.9" fill="#6a6a6a"/>
<circle cx="310.52" cy="392.66" r="0.9" fill="#6a6a6a"/>
<rect x="313.6" y="405.69" width="6.15" height="38.5" fill="#c8105a"/>
<line x1="313.6" y1="405.69" x2="313.6" y2="444.2" stroke="#111" stroke-width="0.85"/>
<line x1="319.75" y1="405.69" x2="319.75" y2="444.2" stroke="#111" stroke-width="0.85"/>
<rect x="313.6" y="370.28" width="6.15" height="28.72" fill="#c8105a"/>
<path d="M313.6,399 V370.28 H319.75 V399" fill="none" stroke="#111" stroke-width="0.85"/>
<line x1="316.68" y1="370.28" x2="316.68" y2="365.49" stroke="#222" stroke-width="0.7"/>
<line x1="314.95" y1="365.49" x2="318.4" y2="365.49" stroke="#222" stroke-width="0.7"/>
<circle cx="316.68" cy="369.08" r="0.9" fill="#6a6a6a"/>
<circle cx="316.68" cy="372.88" r="0.9" fill="#6a6a6a"/>
<rect x="319.75" y="405.69" width="6.15" height="38.5" fill="#3de8a0"/>
<line x1="319.75" y1="405.69" x2="319.75" y2="444.2" stroke="#111" stroke-width="0.85"/>
<line x1="325.9" y1="405.69" x2="325.9" y2="444.2" stroke="#111" stroke-width="0.85"/>
<rect x="319.75" y="382.4" width="6.15" height="16.6" fill="#3de8a0"/>
<path d="M319.75,399 V382.4 H325.9 V399" fill="none" stroke="#111" stroke-width="0.85"/>
<line x1="322.82" y1="382.4" x2="322.82" y2="380.62" stroke="#222" stroke-width="0.7"/>
<line x1="321.1" y1="380.62" x2="324.55" y2="380.62" stroke="#222" stroke-width="0.7"/>
<circle cx="322.82" cy="381.2" r="0.9" fill="#6a6a6a"/>
<circle cx="322.82" cy="385" r="0.9" fill="#6a6a6a"/>
<rect x="300.7" y="399" width="25.8" height="6.4" fill="#ffffff"/>
<line x1="313.6" y1="444.2" x2="313.6" y2="447" stroke="#000" stroke-width="0.8"/>
<text x="309.3" y="463.73" font-size="9.8" text-anchor="middle" fill="#000" transform="rotate(-29 309.3 460.2)">HOXC10</text>
<rect x="332.4" y="442.15" width="6.15" height="2.05" fill="#ffffff" stroke="#555" stroke-width="0.6"/>
<line x1="335.47" y1="442.15" x2="335.47" y2="441.38" stroke="#222" stroke-width="0.7"/>
<line x1="333.75" y1="441.38" x2="337.2" y2="441.38" stroke="#222" stroke-width="0.7"/>
<rect x="338.55" y="443.43" width="6.15" height="0.77" fill="#5a9cf0" stroke="#555" stroke-width="0.6"/>
<line x1="341.62" y1="443.43" x2="341.62" y2="442.92" stroke="#222" stroke-width="0.7"/>
<line x1="339.9" y1="442.92" x2="343.35" y2="442.92" stroke="#222" stroke-width="0.7"/>
<rect x="344.7" y="437.78" width="6.15" height="6.42" fill="#c8105a" stroke="#111" stroke-width="0.85"/>
<line x1="347.77" y1="437.78" x2="347.77" y2="435.73" stroke="#222" stroke-width="0.7"/>
<line x1="346.05" y1="435.73" x2="349.5" y2="435.73" stroke="#222" stroke-width="0.7"/>
<circle cx="347.77" cy="436.58" r="0.9" fill="#6a6a6a"/>
<circle cx="347.77" cy="440.38" r="0.9" fill="#6a6a6a"/>
<rect x="350.85" y="438.04" width="6.15" height="6.16" fill="#3de8a0" stroke="#111" stroke-width="0.85"/>
<line x1="353.92" y1="438.04" x2="353.92" y2="435.99" stroke="#222" stroke-width="0.7"/>
<line x1="352.2" y1="435.99" x2="355.65" y2="435.99" stroke="#222" stroke-width="0.7"/>
<circle cx="353.92" cy="436.84" r="0.9" fill="#6a6a6a"/>
<circle cx="353.92" cy="440.64" r="0.9" fill="#6a6a6a"/>
<line x1="344.7" y1="444.2" x2="344.7" y2="447" stroke="#000" stroke-width="0.8"/>
<text x="340.8" y="463.83" font-size="9.8" text-anchor="middle" fill="#000" transform="rotate(-29 340.8 460.3)">HOXC13</text>
<line x1="235.6" y1="444.2" x2="361" y2="444.2" stroke="#000" stroke-width="1.2"/>
<line x1="412.1" y1="360.6" x2="412.1" y2="422.8" stroke="#000" stroke-width="1.2"/>
<line x1="412.1" y1="428.3" x2="412.1" y2="443.7" stroke="#000" stroke-width="1.2"/>
<line x1="409.5" y1="361" x2="412.1" y2="361" stroke="#000" stroke-width="0.95"/>
<text x="405.8" y="364.5" font-size="9.85" text-anchor="end">1.2</text>
<line x1="409.5" y1="373.36" x2="412.1" y2="373.36" stroke="#000" stroke-width="0.95"/>
<text x="405.8" y="376.86" font-size="9.85" text-anchor="end">1.0</text>
<line x1="409.5" y1="385.62" x2="412.1" y2="385.62" stroke="#000" stroke-width="0.95"/>
<text x="405.8" y="389.12" font-size="9.85" text-anchor="end">0.8</text>
<line x1="409.5" y1="397.88" x2="412.1" y2="397.88" stroke="#000" stroke-width="0.95"/>
<text x="405.8" y="401.38" font-size="9.85" text-anchor="end">0.6</text>
<line x1="409.5" y1="410.14" x2="412.1" y2="410.14" stroke="#000" stroke-width="0.95"/>
<text x="405.8" y="413.64" font-size="9.85" text-anchor="end">0.4</text>
<line x1="409.5" y1="422.4" x2="412.1" y2="422.4" stroke="#000" stroke-width="0.95"/>
<line x1="412.1" y1="422.4" x2="414.7" y2="422.4" stroke="#000" stroke-width="1.1"/>
<text x="405.8" y="424.6" font-size="9.85" text-anchor="end">0.2</text>
<line x1="409.5" y1="428.7" x2="412.1" y2="428.7" stroke="#000" stroke-width="0.95"/>
<line x1="412.1" y1="428.7" x2="414.7" y2="428.7" stroke="#000" stroke-width="1.1"/>
<text x="405.8" y="433.5" font-size="9.85" text-anchor="end">0.02</text>
<line x1="409.5" y1="443.3" x2="412.1" y2="443.3" stroke="#000" stroke-width="0.95"/>
<text x="405.8" y="446.8" font-size="9.85" text-anchor="end">0.00</text>
<rect x="415.8" y="428.86" width="5.2" height="14.44" fill="#ffffff"/>
<line x1="415.8" y1="428.86" x2="415.8" y2="443.3" stroke="#111" stroke-width="0.85"/>
<line x1="421" y1="428.86" x2="421" y2="443.3" stroke="#111" stroke-width="0.85"/>
<rect x="415.8" y="387.46" width="5.2" height="34.94" fill="#ffffff"/>
<path d="M415.8,422.4 V387.46 H421 V422.4" fill="none" stroke="#111" stroke-width="0.85"/>
<line x1="418.4" y1="387.46" x2="418.4" y2="380.72" stroke="#222" stroke-width="0.7"/>
<line x1="416.94" y1="380.72" x2="419.86" y2="380.72" stroke="#222" stroke-width="0.7"/>
<rect x="421" y="428.86" width="5.2" height="14.44" fill="#5a9cf0"/>
<line x1="421" y1="428.86" x2="421" y2="443.3" stroke="#111" stroke-width="0.85"/>
<line x1="426.2" y1="428.86" x2="426.2" y2="443.3" stroke="#111" stroke-width="0.85"/>
<rect x="421" y="411.98" width="5.2" height="10.42" fill="#5a9cf0"/>
<path d="M421,422.4 V411.98 H426.2 V422.4" fill="none" stroke="#111" stroke-width="0.85"/>
<line x1="423.6" y1="411.98" x2="423.6" y2="405.85" stroke="#222" stroke-width="0.7"/>
<line x1="422.14" y1="405.85" x2="425.06" y2="405.85" stroke="#222" stroke-width="0.7"/>
<rect x="426.2" y="428.86" width="5.2" height="14.44" fill="#c8105a"/>
<line x1="426.2" y1="428.86" x2="426.2" y2="443.3" stroke="#111" stroke-width="0.85"/>
<line x1="431.4" y1="428.86" x2="431.4" y2="443.3" stroke="#111" stroke-width="0.85"/>
<rect x="426.2" y="416.27" width="5.2" height="6.13" fill="#c8105a"/>
<path d="M426.2,422.4 V416.27 H431.4 V422.4" fill="none" stroke="#111" stroke-width="0.85"/>
<line x1="428.8" y1="416.27" x2="428.8" y2="412.59" stroke="#222" stroke-width="0.7"/>
<line x1="427.34" y1="412.59" x2="430.26" y2="412.59" stroke="#222" stroke-width="0.7"/>
<rect x="431.4" y="428.86" width="5.2" height="14.44" fill="#3de8a0"/>
<line x1="431.4" y1="428.86" x2="431.4" y2="443.3" stroke="#111" stroke-width="0.85"/>
<line x1="436.6" y1="428.86" x2="436.6" y2="443.3" stroke="#111" stroke-width="0.85"/>
<rect x="431.4" y="419.95" width="5.2" height="2.45" fill="#3de8a0"/>
<path d="M431.4,422.4 V419.95 H436.6 V422.4" fill="none" stroke="#111" stroke-width="0.85"/>
<line x1="434" y1="419.95" x2="434" y2="411.37" stroke="#222" stroke-width="0.7"/>
<line x1="432.54" y1="411.37" x2="435.46" y2="411.37" stroke="#222" stroke-width="0.7"/>
<line x1="426.2" y1="443.3" x2="426.2" y2="446.1" stroke="#000" stroke-width="0.8"/>
<text x="417.5" y="463.43" font-size="9.8" text-anchor="middle" fill="#000" transform="rotate(-29 417.5 459.9)">HOXD4</text>
<rect x="442.05" y="428.86" width="5.2" height="14.44" fill="#ffffff"/>
<line x1="442.05" y1="428.86" x2="442.05" y2="443.3" stroke="#111" stroke-width="0.85"/>
<line x1="447.25" y1="428.86" x2="447.25" y2="443.3" stroke="#111" stroke-width="0.85"/>
<rect x="442.05" y="386.85" width="5.2" height="35.55" fill="#ffffff"/>
<path d="M442.05,422.4 V386.85 H447.25 V422.4" fill="none" stroke="#111" stroke-width="0.85"/>
<line x1="444.65" y1="386.85" x2="444.65" y2="379.49" stroke="#222" stroke-width="0.7"/>
<line x1="443.19" y1="379.49" x2="446.11" y2="379.49" stroke="#222" stroke-width="0.7"/>
<rect x="447.25" y="428.86" width="5.2" height="14.44" fill="#5a9cf0"/>
<line x1="447.25" y1="428.86" x2="447.25" y2="443.3" stroke="#111" stroke-width="0.85"/>
<line x1="452.45" y1="428.86" x2="452.45" y2="443.3" stroke="#111" stroke-width="0.85"/>
<rect x="447.25" y="411.37" width="5.2" height="11.03" fill="#5a9cf0"/>
<path d="M447.25,422.4 V411.37 H452.45 V422.4" fill="none" stroke="#111" stroke-width="0.85"/>
<line x1="449.85" y1="411.37" x2="449.85" y2="408.3" stroke="#222" stroke-width="0.7"/>
<line x1="448.39" y1="408.3" x2="451.31" y2="408.3" stroke="#222" stroke-width="0.7"/>
<rect x="452.45" y="428.86" width="5.2" height="14.44" fill="#c8105a"/>
<line x1="452.45" y1="428.86" x2="452.45" y2="443.3" stroke="#111" stroke-width="0.85"/>
<line x1="457.65" y1="428.86" x2="457.65" y2="443.3" stroke="#111" stroke-width="0.85"/>
<rect x="452.45" y="416.27" width="5.2" height="6.13" fill="#c8105a"/>
<path d="M452.45,422.4 V416.27 H457.65 V422.4" fill="none" stroke="#111" stroke-width="0.85"/>
<line x1="455.05" y1="416.27" x2="455.05" y2="410.14" stroke="#222" stroke-width="0.7"/>
<line x1="453.59" y1="410.14" x2="456.51" y2="410.14" stroke="#222" stroke-width="0.7"/>
<rect x="457.65" y="428.86" width="5.2" height="14.44" fill="#3de8a0"/>
<line x1="457.65" y1="428.86" x2="457.65" y2="443.3" stroke="#111" stroke-width="0.85"/>
<line x1="462.85" y1="428.86" x2="462.85" y2="443.3" stroke="#111" stroke-width="0.85"/>
<rect x="457.65" y="421.17" width="5.2" height="1.23" fill="#3de8a0"/>
<path d="M457.65,422.4 V421.17 H462.85 V422.4" fill="none" stroke="#111" stroke-width="0.85"/>
<line x1="460.25" y1="421.17" x2="460.25" y2="413.82" stroke="#222" stroke-width="0.7"/>
<line x1="458.79" y1="413.82" x2="461.71" y2="413.82" stroke="#222" stroke-width="0.7"/>
<line x1="452.45" y1="443.3" x2="452.45" y2="446.1" stroke="#000" stroke-width="0.8"/>
<text x="444.3" y="463.43" font-size="9.8" text-anchor="middle" fill="#000" transform="rotate(-29 444.3 459.9)">HOXD8</text>
<rect x="468.3" y="428.86" width="5.2" height="14.44" fill="#ffffff"/>
<line x1="468.3" y1="428.86" x2="468.3" y2="443.3" stroke="#111" stroke-width="0.85"/>
<line x1="473.5" y1="428.86" x2="473.5" y2="443.3" stroke="#111" stroke-width="0.85"/>
<rect x="468.3" y="380.72" width="5.2" height="41.68" fill="#ffffff"/>
<path d="M468.3,422.4 V380.72 H473.5 V422.4" fill="none" stroke="#111" stroke-width="0.85"/>
<line x1="470.9" y1="380.72" x2="470.9" y2="373.36" stroke="#222" stroke-width="0.7"/>
<line x1="469.44" y1="373.36" x2="472.36" y2="373.36" stroke="#222" stroke-width="0.7"/>
<rect x="473.5" y="442.72" width="5.2" height="0.58" fill="#5a9cf0" stroke="#555" stroke-width="0.6"/>
<rect x="478.7" y="442.72" width="5.2" height="0.58" fill="#c8105a" stroke="#555" stroke-width="0.6"/>
<rect x="483.9" y="442.72" width="5.2" height="0.58" fill="#3de8a0" stroke="#555" stroke-width="0.6"/>
<line x1="478.7" y1="443.3" x2="478.7" y2="446.1" stroke="#000" stroke-width="0.8"/>
<text x="471.9" y="463.43" font-size="9.8" text-anchor="middle" fill="#000" transform="rotate(-29 471.9 459.9)">HOXD10</text>
<rect x="494.55" y="428.86" width="5.2" height="14.44" fill="#ffffff"/>
<line x1="494.55" y1="428.86" x2="494.55" y2="443.3" stroke="#111" stroke-width="0.85"/>
<line x1="499.75" y1="428.86" x2="499.75" y2="443.3" stroke="#111" stroke-width="0.85"/>
<rect x="494.55" y="380.72" width="5.2" height="41.68" fill="#ffffff"/>
<path d="M494.55,422.4 V380.72 H499.75 V422.4" fill="none" stroke="#111" stroke-width="0.85"/>
<line x1="497.15" y1="380.72" x2="497.15" y2="373.97" stroke="#222" stroke-width="0.7"/>
<line x1="495.69" y1="373.97" x2="498.61" y2="373.97" stroke="#222" stroke-width="0.7"/>
<rect x="499.75" y="442.72" width="5.2" height="0.58" fill="#5a9cf0" stroke="#555" stroke-width="0.6"/>
<rect x="504.95" y="442.87" width="5.2" height="0.43" fill="#c8105a" stroke="#555" stroke-width="0.6"/>
<rect x="510.15" y="442.72" width="5.2" height="0.58" fill="#3de8a0" stroke="#555" stroke-width="0.6"/>
<line x1="504.95" y1="443.3" x2="504.95" y2="446.1" stroke="#000" stroke-width="0.8"/>
<text x="498.9" y="463.43" font-size="9.8" text-anchor="middle" fill="#000" transform="rotate(-29 498.9 459.9)">HOXD11</text>
<rect x="520.8" y="428.86" width="5.2" height="14.44" fill="#ffffff"/>
<line x1="520.8" y1="428.86" x2="520.8" y2="443.3" stroke="#111" stroke-width="0.85"/>
<line x1="526" y1="428.86" x2="526" y2="443.3" stroke="#111" stroke-width="0.85"/>
<rect x="520.8" y="382.56" width="5.2" height="39.84" fill="#ffffff"/>
<path d="M520.8,422.4 V382.56 H526 V422.4" fill="none" stroke="#111" stroke-width="0.85"/>
<line x1="523.4" y1="382.56" x2="523.4" y2="378.26" stroke="#222" stroke-width="0.7"/>
<line x1="521.94" y1="378.26" x2="524.86" y2="378.26" stroke="#222" stroke-width="0.7"/>
<rect x="526" y="442.22" width="5.2" height="1.08" fill="#5a9cf0" stroke="#555" stroke-width="0.6"/>
<rect x="531.2" y="441.86" width="5.2" height="1.44" fill="#c8105a" stroke="#555" stroke-width="0.6"/>
<rect x="536.4" y="441.13" width="5.2" height="2.17" fill="#3de8a0" stroke="#555" stroke-width="0.6"/>
<line x1="531.2" y1="443.3" x2="531.2" y2="446.1" stroke="#000" stroke-width="0.8"/>
<text x="527.7" y="463.43" font-size="9.8" text-anchor="middle" fill="#000" transform="rotate(-29 527.7 459.9)">HOXD13</text>
<line x1="412.1" y1="443.3" x2="544.8" y2="443.3" stroke="#000" stroke-width="1.2"/>
<line x1="585" y1="360.9" x2="585" y2="444.6" stroke="#000" stroke-width="1.2"/>
<line x1="582.4" y1="361.3" x2="585" y2="361.3" stroke="#000" stroke-width="0.95"/>
<text x="582.4" y="364.8" font-size="9.85" text-anchor="end">2.0</text>
<line x1="582.4" y1="382.02" x2="585" y2="382.02" stroke="#000" stroke-width="0.95"/>
<text x="582.4" y="385.52" font-size="9.85" text-anchor="end">1.5</text>
<line x1="582.4" y1="402.75" x2="585" y2="402.75" stroke="#000" stroke-width="0.95"/>
<text x="582.4" y="406.25" font-size="9.85" text-anchor="end">1.0</text>
<line x1="582.4" y1="423.47" x2="585" y2="423.47" stroke="#000" stroke-width="0.95"/>
<text x="582.4" y="426.97" font-size="9.85" text-anchor="end">0.5</text>
<line x1="582.4" y1="444.2" x2="585" y2="444.2" stroke="#000" stroke-width="0.95"/>
<text x="582.4" y="447.7" font-size="9.85" text-anchor="end">0.0</text>
<rect x="588.7" y="406.07" width="7.35" height="38.13" fill="#ffffff" stroke="#111" stroke-width="0.85"/>
<line x1="592.38" y1="406.07" x2="592.38" y2="402.75" stroke="#222" stroke-width="0.7"/>
<line x1="590.58" y1="402.75" x2="594.17" y2="402.75" stroke="#222" stroke-width="0.7"/>
<rect x="596.05" y="436.32" width="7.35" height="7.88" fill="#5a9cf0" stroke="#111" stroke-width="0.85"/>
<line x1="599.73" y1="436.32" x2="599.73" y2="435.91" stroke="#222" stroke-width="0.7"/>
<line x1="597.93" y1="435.91" x2="601.52" y2="435.91" stroke="#222" stroke-width="0.7"/>
<rect x="603.4" y="435.08" width="7.35" height="9.12" fill="#c8105a" stroke="#111" stroke-width="0.85"/>
<line x1="607.08" y1="435.08" x2="607.08" y2="434.67" stroke="#222" stroke-width="0.7"/>
<line x1="605.28" y1="434.67" x2="608.88" y2="434.67" stroke="#222" stroke-width="0.7"/>
<rect x="610.75" y="436.32" width="7.35" height="7.88" fill="#3de8a0" stroke="#111" stroke-width="0.85"/>
<line x1="614.42" y1="436.32" x2="614.42" y2="435.91" stroke="#222" stroke-width="0.7"/>
<line x1="612.62" y1="435.91" x2="616.22" y2="435.91" stroke="#222" stroke-width="0.7"/>
<line x1="603.4" y1="444.2" x2="603.4" y2="447" stroke="#000" stroke-width="0.8"/>
<rect x="625.2" y="406.48" width="7.35" height="37.72" fill="#ffffff" stroke="#111" stroke-width="0.85"/>
<line x1="628.88" y1="406.48" x2="628.88" y2="401.09" stroke="#222" stroke-width="0.7"/>
<line x1="627.08" y1="401.09" x2="630.67" y2="401.09" stroke="#222" stroke-width="0.7"/>
<rect x="632.55" y="398.6" width="7.35" height="45.6" fill="#5a9cf0" stroke="#111" stroke-width="0.85"/>
<line x1="636.23" y1="398.6" x2="636.23" y2="394.87" stroke="#222" stroke-width="0.7"/>
<line x1="634.43" y1="394.87" x2="638.02" y2="394.87" stroke="#222" stroke-width="0.7"/>
<rect x="639.9" y="388.66" width="7.35" height="55.54" fill="#c8105a" stroke="#111" stroke-width="0.85"/>
<line x1="643.58" y1="388.66" x2="643.58" y2="385.34" stroke="#222" stroke-width="0.7"/>
<line x1="641.78" y1="385.34" x2="645.38" y2="385.34" stroke="#222" stroke-width="0.7"/>
<rect x="647.25" y="373.74" width="7.35" height="70.46" fill="#3de8a0" stroke="#111" stroke-width="0.85"/>
<line x1="650.92" y1="373.74" x2="650.92" y2="369.59" stroke="#222" stroke-width="0.7"/>
<line x1="649.12" y1="369.59" x2="652.72" y2="369.59" stroke="#222" stroke-width="0.7"/>
<line x1="639.9" y1="444.2" x2="639.9" y2="447" stroke="#000" stroke-width="0.8"/>
<line x1="585" y1="444.2" x2="658.8" y2="444.2" stroke="#000" stroke-width="1.2"/>
<text x="605" y="455.2" font-size="9.7" text-anchor="middle">HAND2</text>
<text x="640.5" y="455.2" font-size="9.7" text-anchor="middle">IRX2</text>
<text x="79.6" y="429" font-size="6.2" text-anchor="middle" fill="#333">**</text>
<text x="88.8" y="429" font-size="6.2" text-anchor="middle" fill="#333">***</text>
<text x="97" y="429" font-size="6.2" text-anchor="middle" fill="#333">*</text>
<text x="121.8" y="398.5" font-size="6.2" text-anchor="middle" fill="#333">****</text>
<text x="130" y="425.1" font-size="6.2" text-anchor="middle" fill="#333">***</text>
<text x="138.9" y="425.1" font-size="6.2" text-anchor="middle" fill="#333">***</text>
<text x="162.7" y="360.1" font-size="6.2" text-anchor="middle" fill="#333">**</text>
<text x="171.4" y="363" font-size="6.2" text-anchor="middle" fill="#333">****</text>
<text x="180.1" y="360.1" font-size="6.2" text-anchor="middle" fill="#333">***</text>
<text x="249.1" y="412.3" font-size="6.2" text-anchor="middle" fill="#333">***</text>
<text x="255.1" y="415.1" font-size="6.2" text-anchor="middle" fill="#333">***</text>
<text x="261.1" y="418.3" font-size="6.2" text-anchor="middle" fill="#333">****</text>
<text x="278.6" y="403.7" font-size="6.2" text-anchor="middle" fill="#333">****</text>
<text x="286.6" y="406.7" font-size="6.2" text-anchor="middle" fill="#333">***</text>
<text x="292.7" y="409.7" font-size="6.2" text-anchor="middle" fill="#333">**</text>
<text x="309.9" y="383.6" font-size="6.2" text-anchor="middle" fill="#333">***</text>
<text x="316.7" y="362.1" font-size="6.2" text-anchor="middle" fill="#333">****</text>
<text x="323.4" y="375" font-size="6.2" text-anchor="middle" fill="#333">****</text>
<text x="348.7" y="430.5" font-size="6.2" text-anchor="middle" fill="#333">*</text>
<text x="355.2" y="430.5" font-size="6.2" text-anchor="middle" fill="#333">*</text>
<text x="424.4" y="394.2" font-size="6.2" text-anchor="middle" fill="#333">*</text>
<text x="429.4" y="399.8" font-size="6.2" text-anchor="middle" fill="#333">*</text>
<text x="434.5" y="399.8" font-size="6.2" text-anchor="middle" fill="#333">*</text>
<text x="450.4" y="396.4" font-size="6.2" text-anchor="middle" fill="#333">*</text>
<text x="455.4" y="399.8" font-size="6.2" text-anchor="middle" fill="#333">*</text>
<text x="461.3" y="403.1" font-size="6.2" text-anchor="middle" fill="#333">*</text>
<text x="477" y="433.3" font-size="6.2" text-anchor="middle" fill="#333">**</text>
<text x="482.4" y="436.3" font-size="6.2" text-anchor="middle" fill="#333">**</text>
<text x="487.9" y="433.3" font-size="6.2" text-anchor="middle" fill="#333">**</text>
<text x="504.4" y="433.3" font-size="6.2" text-anchor="middle" fill="#333">***</text>
<text x="508.6" y="438.8" font-size="6.2" text-anchor="middle" fill="#333">***</text>
<text x="514.4" y="435.3" font-size="6.2" text-anchor="middle" fill="#333">***</text>
<text x="530.3" y="433.8" font-size="6.2" text-anchor="middle" fill="#333">***</text>
<text x="534.8" y="430.8" font-size="6.2" text-anchor="middle" fill="#333">***</text>
<text x="541" y="427.1" font-size="6.2" text-anchor="middle" fill="#333">***</text>
<text x="600.9" y="428.3" font-size="6.2" text-anchor="middle" fill="#333">***</text>
<text x="608.2" y="425.1" font-size="6.2" text-anchor="middle" fill="#333">***</text>
<text x="615.4" y="428.3" font-size="6.2" text-anchor="middle" fill="#333">***</text>
<text x="643.9" y="378.9" font-size="6.2" text-anchor="middle" fill="#333">*</text>
<text x="651.2" y="362.4" font-size="6.2" text-anchor="middle" fill="#333">**</text>
<text x="341.3" y="433.9" font-size="4.5" text-anchor="middle" fill="#555">ns</text>
<text x="635.9" y="388.3" font-size="4.5" text-anchor="middle" fill="#555">ns</text>
<circle cx="418.5" cy="372.6" r="0.95" fill="#666"/>
<circle cx="418.5" cy="391.2" r="0.95" fill="#666"/>
<circle cx="418.5" cy="396.3" r="0.95" fill="#666"/>
<circle cx="424" cy="401.8" r="0.95" fill="#666"/>
<circle cx="424" cy="420.4" r="0.95" fill="#666"/>
<circle cx="429" cy="414" r="0.95" fill="#666"/>
<circle cx="434.3" cy="418" r="0.95" fill="#666"/>
<circle cx="444.8" cy="372" r="0.95" fill="#666"/>
<circle cx="444.8" cy="392" r="0.95" fill="#666"/>
<circle cx="444.8" cy="397" r="0.95" fill="#666"/>
<circle cx="450.3" cy="404" r="0.95" fill="#666"/>
<circle cx="450.3" cy="409" r="0.95" fill="#666"/>
<circle cx="455.3" cy="408" r="0.95" fill="#666"/>
<circle cx="460.3" cy="418" r="0.95" fill="#666"/>
<circle cx="471" cy="376" r="0.95" fill="#666"/>
<circle cx="471" cy="398" r="0.95" fill="#666"/>
<circle cx="497.2" cy="376" r="0.95" fill="#666"/>
<circle cx="497.2" cy="382" r="0.95" fill="#666"/>
<circle cx="523.8" cy="378" r="0.95" fill="#666"/>
<circle cx="523.8" cy="386" r="0.95" fill="#666"/>
<circle cx="523.8" cy="390" r="0.95" fill="#666"/>
<circle cx="592.6" cy="404.6" r="0.95" fill="#666"/>
<circle cx="592.6" cy="410.2" r="0.95" fill="#666"/>
<circle cx="628.9" cy="414.3" r="0.95" fill="#666"/>
<circle cx="651.2" cy="365" r="0.95" fill="#666"/>
<circle cx="651.2" cy="380" r="0.95" fill="#666"/>
<circle cx="121.5" cy="412.8" r="0.95" fill="#666"/>
<circle cx="121.5" cy="405.8" r="0.95" fill="#666"/>
<circle cx="163" cy="372.5" r="0.95" fill="#666"/>
<circle cx="171.5" cy="384.5" r="0.95" fill="#666"/>
<circle cx="180" cy="368" r="0.95" fill="#666"/>
<circle cx="180" cy="373" r="0.95" fill="#666"/>
</svg>
</body></html>
